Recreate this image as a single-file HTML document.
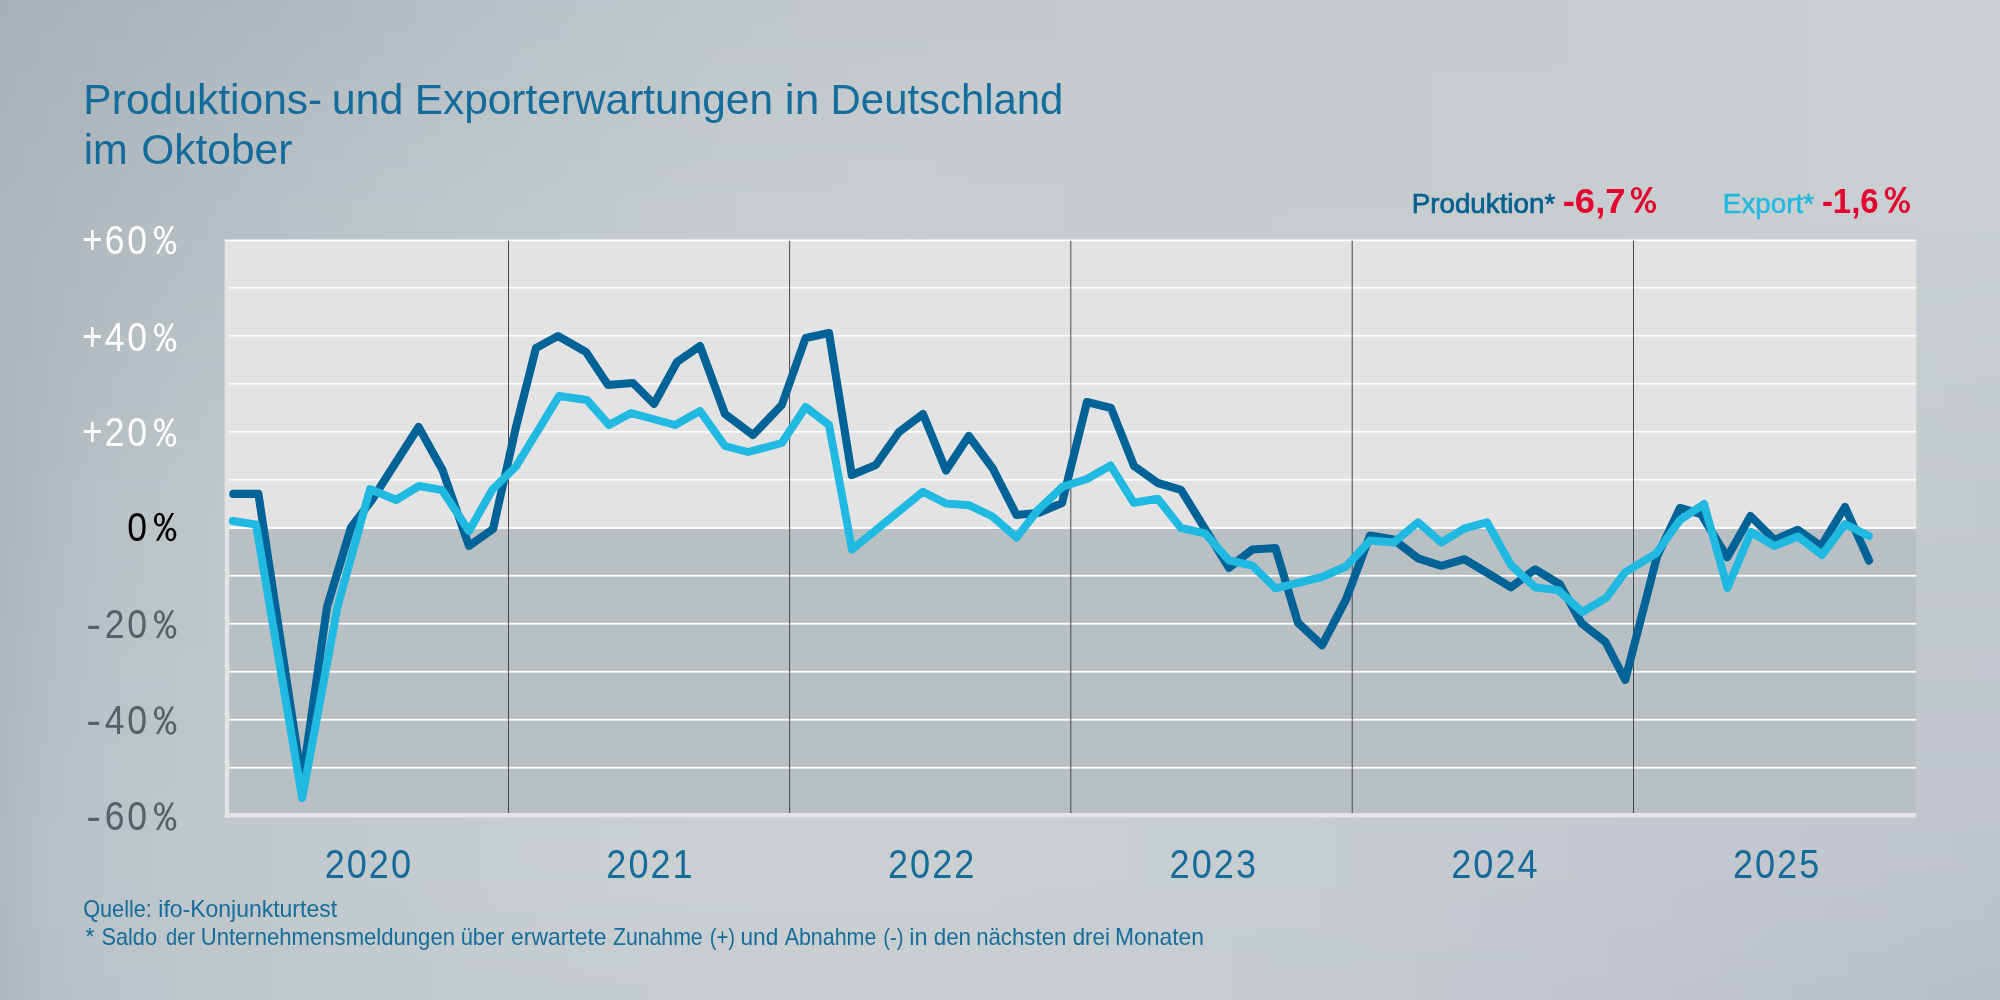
<!DOCTYPE html>
<html><head><meta charset="utf-8"><title>Produktions- und Exporterwartungen</title>
<style>
html,body{margin:0;padding:0;background:#bfc5ca;}
body{width:2000px;height:1000px;overflow:hidden;font-family:"Liberation Sans",sans-serif;}
svg{display:block;font-family:"Liberation Sans",sans-serif;}
</style></head><body>
<svg width="2000" height="1000" viewBox="0 0 2000 1000">
<defs>
<linearGradient id="g0"><stop offset="0" stop-color="#a6b1b7"/><stop offset="0.0125" stop-color="#a7b2b8"/><stop offset="0.025" stop-color="#a8b3b9"/><stop offset="0.05" stop-color="#a9b4ba"/><stop offset="0.08" stop-color="#abb6bc"/><stop offset="0.1125" stop-color="#adb7bd"/><stop offset="0.16" stop-color="#b1bbc0"/><stop offset="0.2" stop-color="#b4bec3"/><stop offset="0.25" stop-color="#b8c1c6"/><stop offset="0.3" stop-color="#bbc4c8"/><stop offset="0.375" stop-color="#c0c7ca"/><stop offset="0.45" stop-color="#c3c9cb"/><stop offset="0.5" stop-color="#c4cacc"/><stop offset="0.6" stop-color="#c5cbcd"/><stop offset="0.65" stop-color="#c5cbcd"/><stop offset="0.75" stop-color="#c6ccce"/><stop offset="0.8" stop-color="#c7cdcf"/><stop offset="0.9" stop-color="#c9ced1"/><stop offset="0.958" stop-color="#cacfd2"/><stop offset="1" stop-color="#cbd0d3"/></linearGradient>
<linearGradient id="g1"><stop offset="0" stop-color="#a6b1b7"/><stop offset="0.0125" stop-color="#a7b2b8"/><stop offset="0.025" stop-color="#a8b3b9"/><stop offset="0.05" stop-color="#aab4ba"/><stop offset="0.08" stop-color="#acb6bc"/><stop offset="0.1125" stop-color="#aeb8be"/><stop offset="0.16" stop-color="#b1bbc1"/><stop offset="0.2" stop-color="#b5bec3"/><stop offset="0.25" stop-color="#b9c1c6"/><stop offset="0.3" stop-color="#bcc4c8"/><stop offset="0.375" stop-color="#c0c7ca"/><stop offset="0.45" stop-color="#c3c9cc"/><stop offset="0.5" stop-color="#c4cacc"/><stop offset="0.6" stop-color="#c5cbcd"/><stop offset="0.65" stop-color="#c5cbcd"/><stop offset="0.75" stop-color="#c6ccce"/><stop offset="0.8" stop-color="#c7cdcf"/><stop offset="0.9" stop-color="#c9ced1"/><stop offset="0.958" stop-color="#cacfd2"/><stop offset="1" stop-color="#cbd0d3"/></linearGradient>
<linearGradient id="g2"><stop offset="0" stop-color="#a7b1b7"/><stop offset="0.0125" stop-color="#a7b2b8"/><stop offset="0.025" stop-color="#a8b3b9"/><stop offset="0.05" stop-color="#aab4ba"/><stop offset="0.08" stop-color="#acb6bc"/><stop offset="0.1125" stop-color="#aeb8be"/><stop offset="0.16" stop-color="#b2bbc1"/><stop offset="0.2" stop-color="#b5bec4"/><stop offset="0.25" stop-color="#b9c2c7"/><stop offset="0.3" stop-color="#bcc4c8"/><stop offset="0.375" stop-color="#c1c8cb"/><stop offset="0.45" stop-color="#c3c9cc"/><stop offset="0.5" stop-color="#c4cacc"/><stop offset="0.6" stop-color="#c5cbcd"/><stop offset="0.65" stop-color="#c5cbcd"/><stop offset="0.75" stop-color="#c6ccce"/><stop offset="0.8" stop-color="#c7cdcf"/><stop offset="0.9" stop-color="#c9ced1"/><stop offset="0.958" stop-color="#cacfd2"/><stop offset="1" stop-color="#cbd0d3"/></linearGradient>
<linearGradient id="g3"><stop offset="0" stop-color="#a7b2b8"/><stop offset="0.0125" stop-color="#a8b2b8"/><stop offset="0.025" stop-color="#a9b3b9"/><stop offset="0.05" stop-color="#aab5bb"/><stop offset="0.08" stop-color="#acb7bc"/><stop offset="0.1125" stop-color="#afb9be"/><stop offset="0.16" stop-color="#b2bcc1"/><stop offset="0.2" stop-color="#b6bfc4"/><stop offset="0.25" stop-color="#b9c2c7"/><stop offset="0.3" stop-color="#bcc4c8"/><stop offset="0.375" stop-color="#c1c8cb"/><stop offset="0.45" stop-color="#c3c9cc"/><stop offset="0.5" stop-color="#c4cacc"/><stop offset="0.6" stop-color="#c5cbcd"/><stop offset="0.65" stop-color="#c5cbcd"/><stop offset="0.75" stop-color="#c6ccce"/><stop offset="0.8" stop-color="#c7cdcf"/><stop offset="0.9" stop-color="#c9ced1"/><stop offset="0.958" stop-color="#cacfd2"/><stop offset="1" stop-color="#cbd0d3"/></linearGradient>
<linearGradient id="g4"><stop offset="0" stop-color="#a7b2b8"/><stop offset="0.0125" stop-color="#a8b3b9"/><stop offset="0.025" stop-color="#a9b3b9"/><stop offset="0.05" stop-color="#abb5bb"/><stop offset="0.08" stop-color="#adb7bd"/><stop offset="0.1125" stop-color="#afb9bf"/><stop offset="0.16" stop-color="#b3bcc2"/><stop offset="0.2" stop-color="#b6bfc4"/><stop offset="0.25" stop-color="#bac2c7"/><stop offset="0.3" stop-color="#bdc5c9"/><stop offset="0.375" stop-color="#c1c8cb"/><stop offset="0.45" stop-color="#c3cacc"/><stop offset="0.5" stop-color="#c5cbcd"/><stop offset="0.6" stop-color="#c5cbcd"/><stop offset="0.65" stop-color="#c5cbcd"/><stop offset="0.75" stop-color="#c6ccce"/><stop offset="0.8" stop-color="#c7cdcf"/><stop offset="0.9" stop-color="#c9ced1"/><stop offset="0.958" stop-color="#cacfd2"/><stop offset="1" stop-color="#cbd0d3"/></linearGradient>
<linearGradient id="g5"><stop offset="0" stop-color="#a7b2b8"/><stop offset="0.0125" stop-color="#a8b3b9"/><stop offset="0.025" stop-color="#a9b4ba"/><stop offset="0.05" stop-color="#abb5bb"/><stop offset="0.08" stop-color="#adb7bd"/><stop offset="0.1125" stop-color="#b0b9bf"/><stop offset="0.16" stop-color="#b3bdc2"/><stop offset="0.2" stop-color="#b6bfc4"/><stop offset="0.25" stop-color="#bac3c7"/><stop offset="0.3" stop-color="#bdc5c9"/><stop offset="0.375" stop-color="#c2c8cb"/><stop offset="0.45" stop-color="#c4cacc"/><stop offset="0.5" stop-color="#c5cbcd"/><stop offset="0.6" stop-color="#c5cbcd"/><stop offset="0.65" stop-color="#c6ccce"/><stop offset="0.75" stop-color="#c6ccce"/><stop offset="0.8" stop-color="#c7cdcf"/><stop offset="0.9" stop-color="#c9ced1"/><stop offset="0.958" stop-color="#cacfd2"/><stop offset="1" stop-color="#cad0d3"/></linearGradient>
<linearGradient id="g6"><stop offset="0" stop-color="#a8b2b8"/><stop offset="0.0125" stop-color="#a8b3b9"/><stop offset="0.025" stop-color="#a9b4ba"/><stop offset="0.05" stop-color="#abb6bb"/><stop offset="0.08" stop-color="#aeb8bd"/><stop offset="0.1125" stop-color="#b0babf"/><stop offset="0.16" stop-color="#b4bdc2"/><stop offset="0.2" stop-color="#b7c0c5"/><stop offset="0.25" stop-color="#bac3c8"/><stop offset="0.3" stop-color="#bec5c9"/><stop offset="0.375" stop-color="#c2c9cc"/><stop offset="0.45" stop-color="#c4cacd"/><stop offset="0.5" stop-color="#c5cbcd"/><stop offset="0.6" stop-color="#c5cbcd"/><stop offset="0.65" stop-color="#c6ccce"/><stop offset="0.75" stop-color="#c6ccce"/><stop offset="0.8" stop-color="#c7cdcf"/><stop offset="0.9" stop-color="#c9ced1"/><stop offset="0.958" stop-color="#cacfd2"/><stop offset="1" stop-color="#cad0d3"/></linearGradient>
<linearGradient id="g7"><stop offset="0" stop-color="#a8b2b8"/><stop offset="0.0125" stop-color="#a9b3b9"/><stop offset="0.025" stop-color="#aab4ba"/><stop offset="0.05" stop-color="#acb6bc"/><stop offset="0.08" stop-color="#aeb8be"/><stop offset="0.1125" stop-color="#b0bac0"/><stop offset="0.16" stop-color="#b4bdc3"/><stop offset="0.2" stop-color="#b7c0c5"/><stop offset="0.25" stop-color="#bbc3c8"/><stop offset="0.3" stop-color="#bec6ca"/><stop offset="0.375" stop-color="#c2c9cc"/><stop offset="0.45" stop-color="#c4cacd"/><stop offset="0.5" stop-color="#c5cbcd"/><stop offset="0.6" stop-color="#c5cbcd"/><stop offset="0.65" stop-color="#c6ccce"/><stop offset="0.75" stop-color="#c7cdcf"/><stop offset="0.8" stop-color="#c7cdcf"/><stop offset="0.9" stop-color="#c9ced1"/><stop offset="0.958" stop-color="#cacfd2"/><stop offset="1" stop-color="#cad0d3"/></linearGradient>
<linearGradient id="g8"><stop offset="0" stop-color="#a8b3b9"/><stop offset="0.0125" stop-color="#a9b3b9"/><stop offset="0.025" stop-color="#aab4ba"/><stop offset="0.05" stop-color="#acb6bc"/><stop offset="0.08" stop-color="#aeb8be"/><stop offset="0.1125" stop-color="#b1bac0"/><stop offset="0.16" stop-color="#b4bec3"/><stop offset="0.2" stop-color="#b8c0c5"/><stop offset="0.25" stop-color="#bbc4c8"/><stop offset="0.3" stop-color="#bec6ca"/><stop offset="0.375" stop-color="#c2c9cc"/><stop offset="0.45" stop-color="#c4cacd"/><stop offset="0.5" stop-color="#c5cbcd"/><stop offset="0.6" stop-color="#c5cbcd"/><stop offset="0.65" stop-color="#c6ccce"/><stop offset="0.75" stop-color="#c7cdcf"/><stop offset="0.8" stop-color="#c7cdcf"/><stop offset="0.9" stop-color="#c9ced1"/><stop offset="0.958" stop-color="#cacfd2"/><stop offset="1" stop-color="#cad0d3"/></linearGradient>
<linearGradient id="g9"><stop offset="0" stop-color="#a8b3b9"/><stop offset="0.0125" stop-color="#a9b4ba"/><stop offset="0.025" stop-color="#aab5ba"/><stop offset="0.05" stop-color="#acb6bc"/><stop offset="0.08" stop-color="#afb9be"/><stop offset="0.1125" stop-color="#b1bbc0"/><stop offset="0.16" stop-color="#b5bec3"/><stop offset="0.2" stop-color="#b8c1c6"/><stop offset="0.25" stop-color="#bcc4c8"/><stop offset="0.3" stop-color="#bfc6ca"/><stop offset="0.375" stop-color="#c3c9cc"/><stop offset="0.45" stop-color="#c4cbcd"/><stop offset="0.5" stop-color="#c5cbcd"/><stop offset="0.6" stop-color="#c5cbcd"/><stop offset="0.65" stop-color="#c6ccce"/><stop offset="0.75" stop-color="#c7cdcf"/><stop offset="0.8" stop-color="#c7cdcf"/><stop offset="0.9" stop-color="#c9ced1"/><stop offset="0.958" stop-color="#cacfd2"/><stop offset="1" stop-color="#cad0d3"/></linearGradient>
<linearGradient id="g10"><stop offset="0" stop-color="#a8b3b9"/><stop offset="0.0125" stop-color="#aab4ba"/><stop offset="0.025" stop-color="#abb5bb"/><stop offset="0.05" stop-color="#adb7bc"/><stop offset="0.08" stop-color="#afb9be"/><stop offset="0.1125" stop-color="#b2bbc1"/><stop offset="0.16" stop-color="#b5bec3"/><stop offset="0.2" stop-color="#b8c1c6"/><stop offset="0.25" stop-color="#bcc4c8"/><stop offset="0.3" stop-color="#bfc7ca"/><stop offset="0.375" stop-color="#c3cacd"/><stop offset="0.45" stop-color="#c5cbcd"/><stop offset="0.5" stop-color="#c5cbce"/><stop offset="0.6" stop-color="#c5cbcd"/><stop offset="0.65" stop-color="#c6ccce"/><stop offset="0.75" stop-color="#c7cdcf"/><stop offset="0.8" stop-color="#c8cdd0"/><stop offset="0.9" stop-color="#c9ced1"/><stop offset="0.958" stop-color="#c9cfd2"/><stop offset="1" stop-color="#cad0d2"/></linearGradient>
<linearGradient id="g11"><stop offset="0" stop-color="#a9b3b9"/><stop offset="0.0125" stop-color="#aab4ba"/><stop offset="0.025" stop-color="#abb5bb"/><stop offset="0.05" stop-color="#adb7bd"/><stop offset="0.08" stop-color="#afb9bf"/><stop offset="0.1125" stop-color="#b2bbc1"/><stop offset="0.16" stop-color="#b6bfc4"/><stop offset="0.2" stop-color="#b9c2c6"/><stop offset="0.25" stop-color="#bcc5c9"/><stop offset="0.3" stop-color="#bfc7cb"/><stop offset="0.375" stop-color="#c3cacd"/><stop offset="0.45" stop-color="#c5cbce"/><stop offset="0.5" stop-color="#c5cbce"/><stop offset="0.6" stop-color="#c5cbcd"/><stop offset="0.65" stop-color="#c6ccce"/><stop offset="0.75" stop-color="#c7cdcf"/><stop offset="0.8" stop-color="#c8cdd0"/><stop offset="0.9" stop-color="#c9ced1"/><stop offset="0.958" stop-color="#c9cfd2"/><stop offset="1" stop-color="#cacfd2"/></linearGradient>
<linearGradient id="g12"><stop offset="0" stop-color="#a9b3b9"/><stop offset="0.0125" stop-color="#aab4ba"/><stop offset="0.025" stop-color="#abb5bb"/><stop offset="0.05" stop-color="#adb7bd"/><stop offset="0.08" stop-color="#b0b9bf"/><stop offset="0.1125" stop-color="#b2bcc1"/><stop offset="0.16" stop-color="#b6bfc4"/><stop offset="0.2" stop-color="#b9c2c6"/><stop offset="0.25" stop-color="#bdc5c9"/><stop offset="0.3" stop-color="#c0c7cb"/><stop offset="0.375" stop-color="#c4cacd"/><stop offset="0.45" stop-color="#c5cbce"/><stop offset="0.5" stop-color="#c5cbce"/><stop offset="0.6" stop-color="#c6ccce"/><stop offset="0.65" stop-color="#c6ccce"/><stop offset="0.75" stop-color="#c7cdcf"/><stop offset="0.8" stop-color="#c8ced0"/><stop offset="0.9" stop-color="#c9ced1"/><stop offset="0.958" stop-color="#c9cfd2"/><stop offset="1" stop-color="#cacfd2"/></linearGradient>
<linearGradient id="g13"><stop offset="0" stop-color="#a9b4ba"/><stop offset="0.0125" stop-color="#aab5ba"/><stop offset="0.025" stop-color="#abb6bb"/><stop offset="0.05" stop-color="#aeb7bd"/><stop offset="0.08" stop-color="#b0babf"/><stop offset="0.1125" stop-color="#b3bcc1"/><stop offset="0.16" stop-color="#b7bfc4"/><stop offset="0.2" stop-color="#bac2c7"/><stop offset="0.25" stop-color="#bdc5c9"/><stop offset="0.3" stop-color="#c0c8cb"/><stop offset="0.375" stop-color="#c4cacd"/><stop offset="0.45" stop-color="#c5cbce"/><stop offset="0.5" stop-color="#c6ccce"/><stop offset="0.6" stop-color="#c6ccce"/><stop offset="0.65" stop-color="#c6ccce"/><stop offset="0.75" stop-color="#c7cdcf"/><stop offset="0.8" stop-color="#c8ced0"/><stop offset="0.9" stop-color="#c9ced1"/><stop offset="0.958" stop-color="#c9cfd2"/><stop offset="1" stop-color="#cacfd2"/></linearGradient>
<linearGradient id="g14"><stop offset="0" stop-color="#a9b4ba"/><stop offset="0.0125" stop-color="#abb5bb"/><stop offset="0.025" stop-color="#acb6bc"/><stop offset="0.05" stop-color="#aeb8bd"/><stop offset="0.08" stop-color="#b1bac0"/><stop offset="0.1125" stop-color="#b3bdc2"/><stop offset="0.16" stop-color="#b7c0c5"/><stop offset="0.2" stop-color="#bac3c7"/><stop offset="0.25" stop-color="#bec5c9"/><stop offset="0.3" stop-color="#c1c8cb"/><stop offset="0.375" stop-color="#c4cbce"/><stop offset="0.45" stop-color="#c5ccce"/><stop offset="0.5" stop-color="#c6ccce"/><stop offset="0.6" stop-color="#c6ccce"/><stop offset="0.65" stop-color="#c6ccce"/><stop offset="0.75" stop-color="#c7cdcf"/><stop offset="0.8" stop-color="#c8ced0"/><stop offset="0.9" stop-color="#c9ced1"/><stop offset="0.958" stop-color="#c9cfd2"/><stop offset="1" stop-color="#cacfd2"/></linearGradient>
<linearGradient id="g15"><stop offset="0" stop-color="#aab4ba"/><stop offset="0.0125" stop-color="#abb5bb"/><stop offset="0.025" stop-color="#acb6bc"/><stop offset="0.05" stop-color="#aeb8be"/><stop offset="0.08" stop-color="#b1bac0"/><stop offset="0.1125" stop-color="#b4bdc2"/><stop offset="0.16" stop-color="#b7c0c5"/><stop offset="0.2" stop-color="#bbc3c7"/><stop offset="0.25" stop-color="#bec6ca"/><stop offset="0.3" stop-color="#c1c8cc"/><stop offset="0.375" stop-color="#c4cbce"/><stop offset="0.45" stop-color="#c6ccce"/><stop offset="0.5" stop-color="#c6ccce"/><stop offset="0.6" stop-color="#c6ccce"/><stop offset="0.65" stop-color="#c6ccce"/><stop offset="0.75" stop-color="#c7cdcf"/><stop offset="0.8" stop-color="#c8ced0"/><stop offset="0.9" stop-color="#c9ced1"/><stop offset="0.958" stop-color="#c9cfd2"/><stop offset="1" stop-color="#cacfd2"/></linearGradient>
<linearGradient id="g16"><stop offset="0" stop-color="#aab4ba"/><stop offset="0.0125" stop-color="#abb5bb"/><stop offset="0.025" stop-color="#acb6bc"/><stop offset="0.05" stop-color="#afb8be"/><stop offset="0.08" stop-color="#b1bbc0"/><stop offset="0.1125" stop-color="#b4bdc2"/><stop offset="0.16" stop-color="#b8c1c5"/><stop offset="0.2" stop-color="#bbc3c8"/><stop offset="0.25" stop-color="#bec6ca"/><stop offset="0.3" stop-color="#c1c9cc"/><stop offset="0.375" stop-color="#c5cbce"/><stop offset="0.45" stop-color="#c6cccf"/><stop offset="0.5" stop-color="#c6ccce"/><stop offset="0.6" stop-color="#c6ccce"/><stop offset="0.65" stop-color="#c6ccce"/><stop offset="0.75" stop-color="#c7cdcf"/><stop offset="0.8" stop-color="#c8ced0"/><stop offset="0.9" stop-color="#c9ced1"/><stop offset="0.958" stop-color="#c9cfd2"/><stop offset="1" stop-color="#c9cfd2"/></linearGradient>
<linearGradient id="g17"><stop offset="0" stop-color="#aab4ba"/><stop offset="0.0125" stop-color="#abb5bb"/><stop offset="0.025" stop-color="#adb6bc"/><stop offset="0.05" stop-color="#afb9be"/><stop offset="0.08" stop-color="#b2bbc0"/><stop offset="0.1125" stop-color="#b5bec3"/><stop offset="0.16" stop-color="#b8c1c6"/><stop offset="0.2" stop-color="#bcc4c8"/><stop offset="0.25" stop-color="#bfc6ca"/><stop offset="0.3" stop-color="#c2c9cc"/><stop offset="0.375" stop-color="#c5cbce"/><stop offset="0.45" stop-color="#c6cccf"/><stop offset="0.5" stop-color="#c6ccce"/><stop offset="0.6" stop-color="#c6ccce"/><stop offset="0.65" stop-color="#c6ccce"/><stop offset="0.75" stop-color="#c7cdcf"/><stop offset="0.8" stop-color="#c8ced0"/><stop offset="0.9" stop-color="#c9ced1"/><stop offset="0.958" stop-color="#c9cfd2"/><stop offset="1" stop-color="#c9cfd2"/></linearGradient>
<linearGradient id="g18"><stop offset="0" stop-color="#aab5bb"/><stop offset="0.0125" stop-color="#acb6bb"/><stop offset="0.025" stop-color="#adb7bc"/><stop offset="0.05" stop-color="#afb9be"/><stop offset="0.08" stop-color="#b2bbc1"/><stop offset="0.1125" stop-color="#b5bec3"/><stop offset="0.16" stop-color="#b9c1c6"/><stop offset="0.2" stop-color="#bcc4c8"/><stop offset="0.25" stop-color="#bfc7ca"/><stop offset="0.3" stop-color="#c2c9cc"/><stop offset="0.375" stop-color="#c5cccf"/><stop offset="0.45" stop-color="#c6cccf"/><stop offset="0.5" stop-color="#c6cccf"/><stop offset="0.6" stop-color="#c6ccce"/><stop offset="0.65" stop-color="#c6ccce"/><stop offset="0.75" stop-color="#c7cdcf"/><stop offset="0.8" stop-color="#c8ced0"/><stop offset="0.9" stop-color="#c9ced1"/><stop offset="0.958" stop-color="#c9cfd2"/><stop offset="1" stop-color="#c9cfd2"/></linearGradient>
<linearGradient id="g19"><stop offset="0" stop-color="#abb5bb"/><stop offset="0.0125" stop-color="#acb6bc"/><stop offset="0.025" stop-color="#adb7bd"/><stop offset="0.05" stop-color="#b0b9bf"/><stop offset="0.08" stop-color="#b2bcc1"/><stop offset="0.1125" stop-color="#b5bec3"/><stop offset="0.16" stop-color="#b9c2c6"/><stop offset="0.2" stop-color="#bcc4c9"/><stop offset="0.25" stop-color="#bfc7cb"/><stop offset="0.3" stop-color="#c2cacd"/><stop offset="0.375" stop-color="#c6cccf"/><stop offset="0.45" stop-color="#c6cccf"/><stop offset="0.5" stop-color="#c6cccf"/><stop offset="0.6" stop-color="#c6ccce"/><stop offset="0.65" stop-color="#c6ccce"/><stop offset="0.75" stop-color="#c7cdcf"/><stop offset="0.8" stop-color="#c8ced0"/><stop offset="0.9" stop-color="#c9ced1"/><stop offset="0.958" stop-color="#c9cfd2"/><stop offset="1" stop-color="#c9cfd2"/></linearGradient>
<linearGradient id="g20"><stop offset="0" stop-color="#abb5bb"/><stop offset="0.0125" stop-color="#acb6bc"/><stop offset="0.025" stop-color="#adb7bd"/><stop offset="0.05" stop-color="#b0b9bf"/><stop offset="0.08" stop-color="#b3bcc1"/><stop offset="0.1125" stop-color="#b6bfc4"/><stop offset="0.16" stop-color="#bac2c6"/><stop offset="0.2" stop-color="#bdc5c9"/><stop offset="0.25" stop-color="#c0c7cb"/><stop offset="0.3" stop-color="#c3cacd"/><stop offset="0.375" stop-color="#c6cccf"/><stop offset="0.45" stop-color="#c7cdcf"/><stop offset="0.5" stop-color="#c6cccf"/><stop offset="0.6" stop-color="#c6ccce"/><stop offset="0.65" stop-color="#c6ccce"/><stop offset="0.75" stop-color="#c7cdcf"/><stop offset="0.8" stop-color="#c8ced0"/><stop offset="0.9" stop-color="#c9ced1"/><stop offset="0.958" stop-color="#c9cfd2"/><stop offset="1" stop-color="#c9cfd2"/></linearGradient>
<linearGradient id="g21"><stop offset="0" stop-color="#abb5bb"/><stop offset="0.0125" stop-color="#acb6bc"/><stop offset="0.025" stop-color="#aeb7bd"/><stop offset="0.05" stop-color="#b0babf"/><stop offset="0.08" stop-color="#b3bcc1"/><stop offset="0.1125" stop-color="#b6bfc4"/><stop offset="0.16" stop-color="#bac2c7"/><stop offset="0.2" stop-color="#bdc5c9"/><stop offset="0.25" stop-color="#c0c8cb"/><stop offset="0.3" stop-color="#c3cacd"/><stop offset="0.375" stop-color="#c6cccf"/><stop offset="0.45" stop-color="#c7cdd0"/><stop offset="0.5" stop-color="#c7cdcf"/><stop offset="0.6" stop-color="#c6ccce"/><stop offset="0.65" stop-color="#c7cdcf"/><stop offset="0.75" stop-color="#c7cdcf"/><stop offset="0.8" stop-color="#c8ced0"/><stop offset="0.9" stop-color="#c8ced1"/><stop offset="0.958" stop-color="#c9cfd2"/><stop offset="1" stop-color="#c9cfd2"/></linearGradient>
<linearGradient id="g22"><stop offset="0" stop-color="#abb5bb"/><stop offset="0.0125" stop-color="#acb6bc"/><stop offset="0.025" stop-color="#aeb7bd"/><stop offset="0.05" stop-color="#b0babf"/><stop offset="0.08" stop-color="#b3bdc2"/><stop offset="0.1125" stop-color="#b6bfc4"/><stop offset="0.16" stop-color="#bac2c7"/><stop offset="0.2" stop-color="#bdc5c9"/><stop offset="0.25" stop-color="#c0c8cb"/><stop offset="0.3" stop-color="#c3cacd"/><stop offset="0.375" stop-color="#c6cccf"/><stop offset="0.45" stop-color="#c7cdd0"/><stop offset="0.5" stop-color="#c7cdcf"/><stop offset="0.6" stop-color="#c6ccce"/><stop offset="0.65" stop-color="#c7cdcf"/><stop offset="0.75" stop-color="#c7cdcf"/><stop offset="0.8" stop-color="#c8ced0"/><stop offset="0.9" stop-color="#c8ced1"/><stop offset="0.958" stop-color="#c9cfd1"/><stop offset="1" stop-color="#c9cfd2"/></linearGradient>
<linearGradient id="g23"><stop offset="0" stop-color="#abb5bb"/><stop offset="0.0125" stop-color="#adb6bc"/><stop offset="0.025" stop-color="#aeb8bd"/><stop offset="0.05" stop-color="#b1bac0"/><stop offset="0.08" stop-color="#b4bdc2"/><stop offset="0.1125" stop-color="#b7bfc4"/><stop offset="0.16" stop-color="#bac3c7"/><stop offset="0.2" stop-color="#bdc5c9"/><stop offset="0.25" stop-color="#c0c8cb"/><stop offset="0.3" stop-color="#c3cacd"/><stop offset="0.375" stop-color="#c6cccf"/><stop offset="0.45" stop-color="#c7cdd0"/><stop offset="0.5" stop-color="#c7cdcf"/><stop offset="0.6" stop-color="#c6ccce"/><stop offset="0.65" stop-color="#c7cdcf"/><stop offset="0.75" stop-color="#c7cdcf"/><stop offset="0.8" stop-color="#c8ced0"/><stop offset="0.9" stop-color="#c8ced1"/><stop offset="0.958" stop-color="#c8ced1"/><stop offset="1" stop-color="#c8cfd1"/></linearGradient>
<linearGradient id="g24"><stop offset="0" stop-color="#abb5bb"/><stop offset="0.0125" stop-color="#adb6bc"/><stop offset="0.025" stop-color="#aeb8bd"/><stop offset="0.05" stop-color="#b1bac0"/><stop offset="0.08" stop-color="#b4bdc2"/><stop offset="0.1125" stop-color="#b7c0c4"/><stop offset="0.16" stop-color="#bbc3c7"/><stop offset="0.2" stop-color="#bec5c9"/><stop offset="0.25" stop-color="#c0c8cb"/><stop offset="0.3" stop-color="#c3cacd"/><stop offset="0.375" stop-color="#c6cccf"/><stop offset="0.45" stop-color="#c7cdd0"/><stop offset="0.5" stop-color="#c7cdcf"/><stop offset="0.6" stop-color="#c6ccce"/><stop offset="0.65" stop-color="#c7cdcf"/><stop offset="0.75" stop-color="#c7cdcf"/><stop offset="0.8" stop-color="#c8ced0"/><stop offset="0.9" stop-color="#c8ced1"/><stop offset="0.958" stop-color="#c8ced1"/><stop offset="1" stop-color="#c8ced1"/></linearGradient>
<linearGradient id="g25"><stop offset="0" stop-color="#abb5bb"/><stop offset="0.0125" stop-color="#adb7bc"/><stop offset="0.025" stop-color="#aeb8be"/><stop offset="0.05" stop-color="#b1bbc0"/><stop offset="0.08" stop-color="#b4bdc2"/><stop offset="0.1125" stop-color="#b7c0c5"/><stop offset="0.16" stop-color="#bbc3c7"/><stop offset="0.2" stop-color="#bec6c9"/><stop offset="0.25" stop-color="#c1c8cb"/><stop offset="0.3" stop-color="#c3cacd"/><stop offset="0.375" stop-color="#c6cccf"/><stop offset="0.45" stop-color="#c7cdd0"/><stop offset="0.5" stop-color="#c7cdcf"/><stop offset="0.6" stop-color="#c6ccce"/><stop offset="0.65" stop-color="#c7cdcf"/><stop offset="0.75" stop-color="#c7cdcf"/><stop offset="0.8" stop-color="#c8ced0"/><stop offset="0.9" stop-color="#c8ced0"/><stop offset="0.958" stop-color="#c8ced1"/><stop offset="1" stop-color="#c8ced1"/></linearGradient>
<linearGradient id="g26"><stop offset="0" stop-color="#abb5bb"/><stop offset="0.0125" stop-color="#adb7bc"/><stop offset="0.025" stop-color="#afb8be"/><stop offset="0.05" stop-color="#b2bbc0"/><stop offset="0.08" stop-color="#b4bec2"/><stop offset="0.1125" stop-color="#b8c0c5"/><stop offset="0.16" stop-color="#bbc3c7"/><stop offset="0.2" stop-color="#bec6ca"/><stop offset="0.25" stop-color="#c1c8cb"/><stop offset="0.3" stop-color="#c4cacd"/><stop offset="0.375" stop-color="#c6cccf"/><stop offset="0.45" stop-color="#c7cdd0"/><stop offset="0.5" stop-color="#c7cdcf"/><stop offset="0.6" stop-color="#c6ccce"/><stop offset="0.65" stop-color="#c7cdcf"/><stop offset="0.75" stop-color="#c7cdcf"/><stop offset="0.8" stop-color="#c8ced0"/><stop offset="0.9" stop-color="#c8ced0"/><stop offset="0.958" stop-color="#c8ced1"/><stop offset="1" stop-color="#c8ced1"/></linearGradient>
<linearGradient id="g27"><stop offset="0" stop-color="#abb5bb"/><stop offset="0.0125" stop-color="#adb7bc"/><stop offset="0.025" stop-color="#afb8be"/><stop offset="0.05" stop-color="#b2bbc0"/><stop offset="0.08" stop-color="#b5bec3"/><stop offset="0.1125" stop-color="#b8c0c5"/><stop offset="0.16" stop-color="#bbc3c7"/><stop offset="0.2" stop-color="#bec6ca"/><stop offset="0.25" stop-color="#c1c8cc"/><stop offset="0.3" stop-color="#c4cacd"/><stop offset="0.375" stop-color="#c6cccf"/><stop offset="0.45" stop-color="#c7cdd0"/><stop offset="0.5" stop-color="#c7cdcf"/><stop offset="0.6" stop-color="#c6ccce"/><stop offset="0.65" stop-color="#c7cdcf"/><stop offset="0.75" stop-color="#c7cdcf"/><stop offset="0.8" stop-color="#c8ced0"/><stop offset="0.9" stop-color="#c8ced0"/><stop offset="0.958" stop-color="#c8ced1"/><stop offset="1" stop-color="#c8ced1"/></linearGradient>
<linearGradient id="g28"><stop offset="0" stop-color="#abb5bb"/><stop offset="0.0125" stop-color="#adb7bd"/><stop offset="0.025" stop-color="#afb8be"/><stop offset="0.05" stop-color="#b2bbc1"/><stop offset="0.08" stop-color="#b5bec3"/><stop offset="0.1125" stop-color="#b8c1c5"/><stop offset="0.16" stop-color="#bbc4c8"/><stop offset="0.2" stop-color="#bec6ca"/><stop offset="0.25" stop-color="#c1c8cc"/><stop offset="0.3" stop-color="#c4cbce"/><stop offset="0.375" stop-color="#c6cccf"/><stop offset="0.45" stop-color="#c7cdd0"/><stop offset="0.5" stop-color="#c7cdcf"/><stop offset="0.6" stop-color="#c6ccce"/><stop offset="0.65" stop-color="#c7cdcf"/><stop offset="0.75" stop-color="#c7cdcf"/><stop offset="0.8" stop-color="#c7cdd0"/><stop offset="0.9" stop-color="#c8ced0"/><stop offset="0.958" stop-color="#c8ced0"/><stop offset="1" stop-color="#c7ced0"/></linearGradient>
<linearGradient id="g29"><stop offset="0" stop-color="#abb5bb"/><stop offset="0.0125" stop-color="#adb7bd"/><stop offset="0.025" stop-color="#afb9be"/><stop offset="0.05" stop-color="#b2bcc1"/><stop offset="0.08" stop-color="#b5bec3"/><stop offset="0.1125" stop-color="#b8c1c5"/><stop offset="0.16" stop-color="#bcc4c8"/><stop offset="0.2" stop-color="#bec6ca"/><stop offset="0.25" stop-color="#c1c8cc"/><stop offset="0.3" stop-color="#c4cbce"/><stop offset="0.375" stop-color="#c6cccf"/><stop offset="0.45" stop-color="#c7cdd0"/><stop offset="0.5" stop-color="#c7cdcf"/><stop offset="0.6" stop-color="#c6ccce"/><stop offset="0.65" stop-color="#c7cdcf"/><stop offset="0.75" stop-color="#c7cdcf"/><stop offset="0.8" stop-color="#c7cdd0"/><stop offset="0.9" stop-color="#c7ced0"/><stop offset="0.958" stop-color="#c7ced0"/><stop offset="1" stop-color="#c7ced0"/></linearGradient>
<linearGradient id="g30"><stop offset="0" stop-color="#abb5bb"/><stop offset="0.0125" stop-color="#adb7bd"/><stop offset="0.025" stop-color="#afb9be"/><stop offset="0.05" stop-color="#b3bcc1"/><stop offset="0.08" stop-color="#b6bfc3"/><stop offset="0.1125" stop-color="#b9c1c5"/><stop offset="0.16" stop-color="#bcc4c8"/><stop offset="0.2" stop-color="#bfc6ca"/><stop offset="0.25" stop-color="#c1c8cc"/><stop offset="0.3" stop-color="#c4cbce"/><stop offset="0.375" stop-color="#c6cccf"/><stop offset="0.45" stop-color="#c7cdd0"/><stop offset="0.5" stop-color="#c7cdcf"/><stop offset="0.6" stop-color="#c6cccf"/><stop offset="0.65" stop-color="#c7cdcf"/><stop offset="0.75" stop-color="#c7cdcf"/><stop offset="0.8" stop-color="#c7cdd0"/><stop offset="0.9" stop-color="#c7cdd0"/><stop offset="0.958" stop-color="#c7ced0"/><stop offset="1" stop-color="#c7cdd0"/></linearGradient>
<linearGradient id="g31"><stop offset="0" stop-color="#abb5bb"/><stop offset="0.0125" stop-color="#aeb7bd"/><stop offset="0.025" stop-color="#afb9be"/><stop offset="0.05" stop-color="#b3bcc1"/><stop offset="0.08" stop-color="#b6bfc3"/><stop offset="0.1125" stop-color="#b9c1c6"/><stop offset="0.16" stop-color="#bcc4c8"/><stop offset="0.2" stop-color="#bfc6ca"/><stop offset="0.25" stop-color="#c1c9cc"/><stop offset="0.3" stop-color="#c4cbce"/><stop offset="0.375" stop-color="#c6cccf"/><stop offset="0.45" stop-color="#c7cdd0"/><stop offset="0.5" stop-color="#c7cdcf"/><stop offset="0.6" stop-color="#c6cccf"/><stop offset="0.65" stop-color="#c7cdcf"/><stop offset="0.75" stop-color="#c7cdcf"/><stop offset="0.8" stop-color="#c7cdd0"/><stop offset="0.9" stop-color="#c7cdd0"/><stop offset="0.958" stop-color="#c7cdd0"/><stop offset="1" stop-color="#c7cdd0"/></linearGradient>
<linearGradient id="g32"><stop offset="0" stop-color="#abb5bb"/><stop offset="0.0125" stop-color="#aeb7bd"/><stop offset="0.025" stop-color="#b0b9bf"/><stop offset="0.05" stop-color="#b3bcc1"/><stop offset="0.08" stop-color="#b6bfc4"/><stop offset="0.1125" stop-color="#b9c2c6"/><stop offset="0.16" stop-color="#bcc4c8"/><stop offset="0.2" stop-color="#bfc7ca"/><stop offset="0.25" stop-color="#c2c9cc"/><stop offset="0.3" stop-color="#c4cbce"/><stop offset="0.375" stop-color="#c6cccf"/><stop offset="0.45" stop-color="#c7cdd0"/><stop offset="0.5" stop-color="#c7cdcf"/><stop offset="0.6" stop-color="#c7cdcf"/><stop offset="0.65" stop-color="#c7cdcf"/><stop offset="0.75" stop-color="#c7cdcf"/><stop offset="0.8" stop-color="#c7cdd0"/><stop offset="0.9" stop-color="#c7cdd0"/><stop offset="0.958" stop-color="#c7cdd0"/><stop offset="1" stop-color="#c7cdd0"/></linearGradient>
<linearGradient id="g33"><stop offset="0" stop-color="#abb5bb"/><stop offset="0.0125" stop-color="#aeb7bd"/><stop offset="0.025" stop-color="#b0b9bf"/><stop offset="0.05" stop-color="#b3bdc2"/><stop offset="0.08" stop-color="#b6bfc4"/><stop offset="0.1125" stop-color="#b9c2c6"/><stop offset="0.16" stop-color="#bcc4c8"/><stop offset="0.2" stop-color="#bfc7ca"/><stop offset="0.25" stop-color="#c2c9cc"/><stop offset="0.3" stop-color="#c4cbce"/><stop offset="0.375" stop-color="#c6cccf"/><stop offset="0.45" stop-color="#c7cdd0"/><stop offset="0.5" stop-color="#c7cdcf"/><stop offset="0.6" stop-color="#c7cdcf"/><stop offset="0.65" stop-color="#c7cdcf"/><stop offset="0.75" stop-color="#c7cdcf"/><stop offset="0.8" stop-color="#c7cdd0"/><stop offset="0.9" stop-color="#c7cdd0"/><stop offset="0.958" stop-color="#c7cdd0"/><stop offset="1" stop-color="#c6cdcf"/></linearGradient>
<linearGradient id="g34"><stop offset="0" stop-color="#abb5bb"/><stop offset="0.0125" stop-color="#aeb7bd"/><stop offset="0.025" stop-color="#b0b9bf"/><stop offset="0.05" stop-color="#b4bdc2"/><stop offset="0.08" stop-color="#b7c0c4"/><stop offset="0.1125" stop-color="#bac2c6"/><stop offset="0.16" stop-color="#bdc5c8"/><stop offset="0.2" stop-color="#bfc7ca"/><stop offset="0.25" stop-color="#c2c9cc"/><stop offset="0.3" stop-color="#c4cbce"/><stop offset="0.375" stop-color="#c6cccf"/><stop offset="0.45" stop-color="#c7cdd0"/><stop offset="0.5" stop-color="#c7cdcf"/><stop offset="0.6" stop-color="#c7cdcf"/><stop offset="0.65" stop-color="#c7cdcf"/><stop offset="0.75" stop-color="#c7cdcf"/><stop offset="0.8" stop-color="#c7cdd0"/><stop offset="0.9" stop-color="#c7cdcf"/><stop offset="0.958" stop-color="#c7cdcf"/><stop offset="1" stop-color="#c6cdcf"/></linearGradient>
<linearGradient id="g35"><stop offset="0" stop-color="#acb5bb"/><stop offset="0.0125" stop-color="#aeb7bd"/><stop offset="0.025" stop-color="#b0babf"/><stop offset="0.05" stop-color="#b4bdc2"/><stop offset="0.08" stop-color="#b7c0c4"/><stop offset="0.1125" stop-color="#bac2c6"/><stop offset="0.16" stop-color="#bdc5c9"/><stop offset="0.2" stop-color="#bfc7ca"/><stop offset="0.25" stop-color="#c2c9cc"/><stop offset="0.3" stop-color="#c4cbce"/><stop offset="0.375" stop-color="#c6cccf"/><stop offset="0.45" stop-color="#c7cdd0"/><stop offset="0.5" stop-color="#c7cdd0"/><stop offset="0.6" stop-color="#c7cdcf"/><stop offset="0.65" stop-color="#c7cdcf"/><stop offset="0.75" stop-color="#c7cdcf"/><stop offset="0.8" stop-color="#c7cdd0"/><stop offset="0.9" stop-color="#c7cdcf"/><stop offset="0.958" stop-color="#c6cdcf"/><stop offset="1" stop-color="#c6cccf"/></linearGradient>
<linearGradient id="g36"><stop offset="0" stop-color="#acb5bb"/><stop offset="0.0125" stop-color="#aeb8bd"/><stop offset="0.025" stop-color="#b0babf"/><stop offset="0.05" stop-color="#b4bec2"/><stop offset="0.08" stop-color="#b7c0c4"/><stop offset="0.1125" stop-color="#bac3c7"/><stop offset="0.16" stop-color="#bdc5c9"/><stop offset="0.2" stop-color="#c0c7ca"/><stop offset="0.25" stop-color="#c2c9cc"/><stop offset="0.3" stop-color="#c5cbce"/><stop offset="0.375" stop-color="#c6cdcf"/><stop offset="0.45" stop-color="#c7cdd0"/><stop offset="0.5" stop-color="#c7cdd0"/><stop offset="0.6" stop-color="#c7cdcf"/><stop offset="0.65" stop-color="#c7cdcf"/><stop offset="0.75" stop-color="#c7cdcf"/><stop offset="0.8" stop-color="#c7cdcf"/><stop offset="0.9" stop-color="#c6cdcf"/><stop offset="0.958" stop-color="#c6cdcf"/><stop offset="1" stop-color="#c6cccf"/></linearGradient>
<linearGradient id="g37"><stop offset="0" stop-color="#acb5bb"/><stop offset="0.0125" stop-color="#aeb8bd"/><stop offset="0.025" stop-color="#b1babf"/><stop offset="0.05" stop-color="#b5bec2"/><stop offset="0.08" stop-color="#b7c0c5"/><stop offset="0.1125" stop-color="#bbc3c7"/><stop offset="0.16" stop-color="#bdc5c9"/><stop offset="0.2" stop-color="#c0c7cb"/><stop offset="0.25" stop-color="#c2c9cc"/><stop offset="0.3" stop-color="#c5cbce"/><stop offset="0.375" stop-color="#c6cdcf"/><stop offset="0.45" stop-color="#c7cdd0"/><stop offset="0.5" stop-color="#c7cdd0"/><stop offset="0.6" stop-color="#c7cdcf"/><stop offset="0.65" stop-color="#c7cdcf"/><stop offset="0.75" stop-color="#c7cdcf"/><stop offset="0.8" stop-color="#c7cdcf"/><stop offset="0.9" stop-color="#c6cdcf"/><stop offset="0.958" stop-color="#c6cdcf"/><stop offset="1" stop-color="#c6cccf"/></linearGradient>
<linearGradient id="g38"><stop offset="0" stop-color="#acb5bb"/><stop offset="0.0125" stop-color="#aeb8bd"/><stop offset="0.025" stop-color="#b1babf"/><stop offset="0.05" stop-color="#b5bec3"/><stop offset="0.08" stop-color="#b8c1c5"/><stop offset="0.1125" stop-color="#bbc3c7"/><stop offset="0.16" stop-color="#bec5c9"/><stop offset="0.2" stop-color="#c0c7cb"/><stop offset="0.25" stop-color="#c2c9cc"/><stop offset="0.3" stop-color="#c5cbce"/><stop offset="0.375" stop-color="#c6cdcf"/><stop offset="0.45" stop-color="#c7cdd0"/><stop offset="0.5" stop-color="#c7cdd0"/><stop offset="0.6" stop-color="#c7cdcf"/><stop offset="0.65" stop-color="#c7cdcf"/><stop offset="0.75" stop-color="#c7cdcf"/><stop offset="0.8" stop-color="#c7cdcf"/><stop offset="0.9" stop-color="#c6cdcf"/><stop offset="0.958" stop-color="#c6cdcf"/><stop offset="1" stop-color="#c5ccce"/></linearGradient>
<linearGradient id="g39"><stop offset="0" stop-color="#acb5bb"/><stop offset="0.0125" stop-color="#aeb8bd"/><stop offset="0.025" stop-color="#b1babf"/><stop offset="0.05" stop-color="#b5bec3"/><stop offset="0.08" stop-color="#b8c1c5"/><stop offset="0.1125" stop-color="#bbc3c7"/><stop offset="0.16" stop-color="#bec6c9"/><stop offset="0.2" stop-color="#c0c7cb"/><stop offset="0.25" stop-color="#c2c9cd"/><stop offset="0.3" stop-color="#c5cbce"/><stop offset="0.375" stop-color="#c6cdcf"/><stop offset="0.45" stop-color="#c7cdd0"/><stop offset="0.5" stop-color="#c7cdd0"/><stop offset="0.6" stop-color="#c7cdcf"/><stop offset="0.65" stop-color="#c7cdcf"/><stop offset="0.75" stop-color="#c7cdcf"/><stop offset="0.8" stop-color="#c7cdcf"/><stop offset="0.9" stop-color="#c6cdcf"/><stop offset="0.958" stop-color="#c6cccf"/><stop offset="1" stop-color="#c5ccce"/></linearGradient>
<linearGradient id="g40"><stop offset="0" stop-color="#acb5bb"/><stop offset="0.0125" stop-color="#afb8bd"/><stop offset="0.025" stop-color="#b1bac0"/><stop offset="0.05" stop-color="#b5bfc3"/><stop offset="0.08" stop-color="#b8c1c5"/><stop offset="0.1125" stop-color="#bbc4c7"/><stop offset="0.16" stop-color="#bec6c9"/><stop offset="0.2" stop-color="#c0c8cb"/><stop offset="0.25" stop-color="#c3c9cd"/><stop offset="0.3" stop-color="#c5cbce"/><stop offset="0.375" stop-color="#c7cdcf"/><stop offset="0.45" stop-color="#c7cdd0"/><stop offset="0.5" stop-color="#c8ced0"/><stop offset="0.6" stop-color="#c7cdcf"/><stop offset="0.65" stop-color="#c7cdcf"/><stop offset="0.75" stop-color="#c7cdcf"/><stop offset="0.8" stop-color="#c7cdcf"/><stop offset="0.9" stop-color="#c6cccf"/><stop offset="0.958" stop-color="#c6cccf"/><stop offset="1" stop-color="#c5ccce"/></linearGradient>
<linearGradient id="g41"><stop offset="0" stop-color="#acb5bb"/><stop offset="0.0125" stop-color="#afb8be"/><stop offset="0.025" stop-color="#b1bbc0"/><stop offset="0.05" stop-color="#b6bfc3"/><stop offset="0.08" stop-color="#b9c1c5"/><stop offset="0.1125" stop-color="#bcc4c7"/><stop offset="0.16" stop-color="#bec6c9"/><stop offset="0.2" stop-color="#c0c8cb"/><stop offset="0.25" stop-color="#c3cacd"/><stop offset="0.3" stop-color="#c5cbce"/><stop offset="0.375" stop-color="#c7cdcf"/><stop offset="0.45" stop-color="#c7cdd0"/><stop offset="0.5" stop-color="#c8ced0"/><stop offset="0.6" stop-color="#c7cdcf"/><stop offset="0.65" stop-color="#c7cdcf"/><stop offset="0.75" stop-color="#c7cdcf"/><stop offset="0.8" stop-color="#c7cdcf"/><stop offset="0.9" stop-color="#c6cccf"/><stop offset="0.958" stop-color="#c5ccce"/><stop offset="1" stop-color="#c5cbce"/></linearGradient>
<linearGradient id="g42"><stop offset="0" stop-color="#acb5bb"/><stop offset="0.0125" stop-color="#afb8be"/><stop offset="0.025" stop-color="#b2bbc0"/><stop offset="0.05" stop-color="#b6bfc3"/><stop offset="0.08" stop-color="#b9c2c5"/><stop offset="0.1125" stop-color="#bcc4c8"/><stop offset="0.16" stop-color="#bec6ca"/><stop offset="0.2" stop-color="#c1c8cb"/><stop offset="0.25" stop-color="#c3cacd"/><stop offset="0.3" stop-color="#c5cbce"/><stop offset="0.375" stop-color="#c7cdcf"/><stop offset="0.45" stop-color="#c7cdd0"/><stop offset="0.5" stop-color="#c8ced0"/><stop offset="0.6" stop-color="#c7cdcf"/><stop offset="0.65" stop-color="#c7cdcf"/><stop offset="0.75" stop-color="#c7cdcf"/><stop offset="0.8" stop-color="#c7cdcf"/><stop offset="0.9" stop-color="#c6cccf"/><stop offset="0.958" stop-color="#c5ccce"/><stop offset="1" stop-color="#c5cbce"/></linearGradient>
<linearGradient id="g43"><stop offset="0" stop-color="#acb5bb"/><stop offset="0.0125" stop-color="#afb8be"/><stop offset="0.025" stop-color="#b2bbc0"/><stop offset="0.05" stop-color="#b6bfc4"/><stop offset="0.08" stop-color="#b9c2c6"/><stop offset="0.1125" stop-color="#bcc4c8"/><stop offset="0.16" stop-color="#bfc6ca"/><stop offset="0.2" stop-color="#c1c8cb"/><stop offset="0.25" stop-color="#c3cacd"/><stop offset="0.3" stop-color="#c5cccf"/><stop offset="0.375" stop-color="#c7cdcf"/><stop offset="0.45" stop-color="#c7cdd0"/><stop offset="0.5" stop-color="#c8ced0"/><stop offset="0.6" stop-color="#c7cdcf"/><stop offset="0.65" stop-color="#c7cdcf"/><stop offset="0.75" stop-color="#c7cdcf"/><stop offset="0.8" stop-color="#c6cccf"/><stop offset="0.9" stop-color="#c6ccce"/><stop offset="0.958" stop-color="#c5ccce"/><stop offset="1" stop-color="#c4cbcd"/></linearGradient>
<linearGradient id="g44"><stop offset="0" stop-color="#acb5bb"/><stop offset="0.0125" stop-color="#afb8be"/><stop offset="0.025" stop-color="#b2bbc0"/><stop offset="0.05" stop-color="#b6c0c4"/><stop offset="0.08" stop-color="#b9c2c6"/><stop offset="0.1125" stop-color="#bcc5c8"/><stop offset="0.16" stop-color="#bfc7ca"/><stop offset="0.2" stop-color="#c1c8cb"/><stop offset="0.25" stop-color="#c3cacd"/><stop offset="0.3" stop-color="#c5cccf"/><stop offset="0.375" stop-color="#c7cdcf"/><stop offset="0.45" stop-color="#c7cdd0"/><stop offset="0.5" stop-color="#c8ced0"/><stop offset="0.6" stop-color="#c7cdcf"/><stop offset="0.65" stop-color="#c7cdcf"/><stop offset="0.75" stop-color="#c7cdcf"/><stop offset="0.8" stop-color="#c6cccf"/><stop offset="0.9" stop-color="#c5ccce"/><stop offset="0.958" stop-color="#c5ccce"/><stop offset="1" stop-color="#c4cbcd"/></linearGradient>
<linearGradient id="g45"><stop offset="0" stop-color="#acb5bb"/><stop offset="0.0125" stop-color="#afb8be"/><stop offset="0.025" stop-color="#b2bbc0"/><stop offset="0.05" stop-color="#b7c0c4"/><stop offset="0.08" stop-color="#bac2c6"/><stop offset="0.1125" stop-color="#bdc5c8"/><stop offset="0.16" stop-color="#bfc7ca"/><stop offset="0.2" stop-color="#c1c8cb"/><stop offset="0.25" stop-color="#c3cacd"/><stop offset="0.3" stop-color="#c6cccf"/><stop offset="0.375" stop-color="#c7cdcf"/><stop offset="0.45" stop-color="#c7cdd0"/><stop offset="0.5" stop-color="#c8ced0"/><stop offset="0.6" stop-color="#c7cdcf"/><stop offset="0.65" stop-color="#c7cdcf"/><stop offset="0.75" stop-color="#c7cdcf"/><stop offset="0.8" stop-color="#c6cccf"/><stop offset="0.9" stop-color="#c5ccce"/><stop offset="0.958" stop-color="#c5ccce"/><stop offset="1" stop-color="#c4cbcd"/></linearGradient>
<linearGradient id="g46"><stop offset="0" stop-color="#acb5bb"/><stop offset="0.0125" stop-color="#afb8be"/><stop offset="0.025" stop-color="#b2bbc0"/><stop offset="0.05" stop-color="#b7c0c4"/><stop offset="0.08" stop-color="#bac3c6"/><stop offset="0.1125" stop-color="#bdc5c8"/><stop offset="0.16" stop-color="#bfc7ca"/><stop offset="0.2" stop-color="#c1c8cb"/><stop offset="0.25" stop-color="#c3cacd"/><stop offset="0.3" stop-color="#c6cccf"/><stop offset="0.375" stop-color="#c7cdcf"/><stop offset="0.45" stop-color="#c7cdd0"/><stop offset="0.5" stop-color="#c8ced0"/><stop offset="0.6" stop-color="#c7cdcf"/><stop offset="0.65" stop-color="#c7cdcf"/><stop offset="0.75" stop-color="#c6cccf"/><stop offset="0.8" stop-color="#c6cccf"/><stop offset="0.9" stop-color="#c5ccce"/><stop offset="0.958" stop-color="#c5cbce"/><stop offset="1" stop-color="#c4cbcd"/></linearGradient>
<linearGradient id="g47"><stop offset="0" stop-color="#acb5bb"/><stop offset="0.0125" stop-color="#afb9be"/><stop offset="0.025" stop-color="#b3bcc1"/><stop offset="0.05" stop-color="#b7c0c4"/><stop offset="0.08" stop-color="#bac3c6"/><stop offset="0.1125" stop-color="#bdc5c9"/><stop offset="0.16" stop-color="#bfc7ca"/><stop offset="0.2" stop-color="#c1c8cc"/><stop offset="0.25" stop-color="#c4cacd"/><stop offset="0.3" stop-color="#c6cccf"/><stop offset="0.375" stop-color="#c7cdcf"/><stop offset="0.45" stop-color="#c7cdd0"/><stop offset="0.5" stop-color="#c8ced0"/><stop offset="0.6" stop-color="#c7cdd0"/><stop offset="0.65" stop-color="#c7cdcf"/><stop offset="0.75" stop-color="#c6cccf"/><stop offset="0.8" stop-color="#c6cccf"/><stop offset="0.9" stop-color="#c5ccce"/><stop offset="0.958" stop-color="#c4cbcd"/><stop offset="1" stop-color="#c4cacd"/></linearGradient>
<linearGradient id="g48"><stop offset="0" stop-color="#acb5bb"/><stop offset="0.0125" stop-color="#b0b9be"/><stop offset="0.025" stop-color="#b3bcc1"/><stop offset="0.05" stop-color="#b8c1c5"/><stop offset="0.08" stop-color="#bac3c7"/><stop offset="0.1125" stop-color="#bec6c9"/><stop offset="0.16" stop-color="#c0c7ca"/><stop offset="0.2" stop-color="#c1c9cc"/><stop offset="0.25" stop-color="#c4cacd"/><stop offset="0.3" stop-color="#c6cccf"/><stop offset="0.375" stop-color="#c7cdcf"/><stop offset="0.45" stop-color="#c7cdd0"/><stop offset="0.5" stop-color="#c8ced0"/><stop offset="0.6" stop-color="#c7cdd0"/><stop offset="0.65" stop-color="#c7cdcf"/><stop offset="0.75" stop-color="#c6cccf"/><stop offset="0.8" stop-color="#c6cccf"/><stop offset="0.9" stop-color="#c5ccce"/><stop offset="0.958" stop-color="#c4cbcd"/><stop offset="1" stop-color="#c3cacc"/></linearGradient>
<linearGradient id="g49"><stop offset="0" stop-color="#acb5bb"/><stop offset="0.0125" stop-color="#b0b9be"/><stop offset="0.025" stop-color="#b3bcc1"/><stop offset="0.05" stop-color="#b8c1c5"/><stop offset="0.08" stop-color="#bbc3c7"/><stop offset="0.1125" stop-color="#bec6c9"/><stop offset="0.16" stop-color="#c0c7ca"/><stop offset="0.2" stop-color="#c2c9cc"/><stop offset="0.25" stop-color="#c4cacd"/><stop offset="0.3" stop-color="#c6cccf"/><stop offset="0.375" stop-color="#c7cdcf"/><stop offset="0.45" stop-color="#c7cdd0"/><stop offset="0.5" stop-color="#c8ced0"/><stop offset="0.6" stop-color="#c7cdd0"/><stop offset="0.65" stop-color="#c7cdcf"/><stop offset="0.75" stop-color="#c6cccf"/><stop offset="0.8" stop-color="#c6cccf"/><stop offset="0.9" stop-color="#c5cbce"/><stop offset="0.958" stop-color="#c4cbcd"/><stop offset="1" stop-color="#c3cacc"/></linearGradient>
<linearGradient id="g50"><stop offset="0" stop-color="#acb5bb"/><stop offset="0.0125" stop-color="#b0b9be"/><stop offset="0.025" stop-color="#b3bcc1"/><stop offset="0.05" stop-color="#b8c1c5"/><stop offset="0.08" stop-color="#bbc3c7"/><stop offset="0.1125" stop-color="#bec6c9"/><stop offset="0.16" stop-color="#c0c8cb"/><stop offset="0.2" stop-color="#c2c9cc"/><stop offset="0.25" stop-color="#c4cacd"/><stop offset="0.3" stop-color="#c6cccf"/><stop offset="0.375" stop-color="#c7cdcf"/><stop offset="0.45" stop-color="#c8ced0"/><stop offset="0.5" stop-color="#c8ced0"/><stop offset="0.6" stop-color="#c7cdd0"/><stop offset="0.65" stop-color="#c7cdd0"/><stop offset="0.75" stop-color="#c6cccf"/><stop offset="0.8" stop-color="#c6cccf"/><stop offset="0.9" stop-color="#c5cbce"/><stop offset="0.958" stop-color="#c4cbcd"/><stop offset="1" stop-color="#c3cacc"/></linearGradient>
<linearGradient id="g51"><stop offset="0" stop-color="#acb5bb"/><stop offset="0.0125" stop-color="#b0b9be"/><stop offset="0.025" stop-color="#b3bcc1"/><stop offset="0.05" stop-color="#b8c1c5"/><stop offset="0.08" stop-color="#bbc4c7"/><stop offset="0.1125" stop-color="#bec6c9"/><stop offset="0.16" stop-color="#c0c8cb"/><stop offset="0.2" stop-color="#c2c9cc"/><stop offset="0.25" stop-color="#c4cace"/><stop offset="0.3" stop-color="#c6cccf"/><stop offset="0.375" stop-color="#c7cdd0"/><stop offset="0.45" stop-color="#c8ced0"/><stop offset="0.5" stop-color="#c8ced0"/><stop offset="0.6" stop-color="#c7cdd0"/><stop offset="0.65" stop-color="#c7cdd0"/><stop offset="0.75" stop-color="#c6cccf"/><stop offset="0.8" stop-color="#c6cccf"/><stop offset="0.9" stop-color="#c5cbce"/><stop offset="0.958" stop-color="#c4cbcd"/><stop offset="1" stop-color="#c3cacc"/></linearGradient>
<linearGradient id="g52"><stop offset="0" stop-color="#acb5bb"/><stop offset="0.0125" stop-color="#b0b9be"/><stop offset="0.025" stop-color="#b3bcc1"/><stop offset="0.05" stop-color="#b8c1c5"/><stop offset="0.08" stop-color="#bbc4c7"/><stop offset="0.1125" stop-color="#bec6c9"/><stop offset="0.16" stop-color="#c0c8cb"/><stop offset="0.2" stop-color="#c2c9cc"/><stop offset="0.25" stop-color="#c4cbce"/><stop offset="0.3" stop-color="#c6cccf"/><stop offset="0.375" stop-color="#c7cdd0"/><stop offset="0.45" stop-color="#c8ced0"/><stop offset="0.5" stop-color="#c8ced0"/><stop offset="0.6" stop-color="#c7cdd0"/><stop offset="0.65" stop-color="#c7cdd0"/><stop offset="0.75" stop-color="#c6cccf"/><stop offset="0.8" stop-color="#c6cccf"/><stop offset="0.9" stop-color="#c4cbce"/><stop offset="0.958" stop-color="#c4cbcd"/><stop offset="1" stop-color="#c3cacc"/></linearGradient>
<linearGradient id="g53"><stop offset="0" stop-color="#acb5bb"/><stop offset="0.0125" stop-color="#b0b9bf"/><stop offset="0.025" stop-color="#b3bcc1"/><stop offset="0.05" stop-color="#b8c1c5"/><stop offset="0.08" stop-color="#bbc4c7"/><stop offset="0.1125" stop-color="#bec6c9"/><stop offset="0.16" stop-color="#c0c8cb"/><stop offset="0.2" stop-color="#c2c9cc"/><stop offset="0.25" stop-color="#c4cbce"/><stop offset="0.3" stop-color="#c6cccf"/><stop offset="0.375" stop-color="#c7cdd0"/><stop offset="0.45" stop-color="#c8ced0"/><stop offset="0.5" stop-color="#c8ced0"/><stop offset="0.6" stop-color="#c7cdd0"/><stop offset="0.65" stop-color="#c7cdd0"/><stop offset="0.75" stop-color="#c6cccf"/><stop offset="0.8" stop-color="#c6cccf"/><stop offset="0.9" stop-color="#c4cbce"/><stop offset="0.958" stop-color="#c4cacd"/><stop offset="1" stop-color="#c3c9cc"/></linearGradient>
<linearGradient id="g54"><stop offset="0" stop-color="#adb6bc"/><stop offset="0.0125" stop-color="#b0b9bf"/><stop offset="0.025" stop-color="#b4bdc1"/><stop offset="0.05" stop-color="#b8c1c5"/><stop offset="0.08" stop-color="#bbc4c7"/><stop offset="0.1125" stop-color="#bec6c9"/><stop offset="0.16" stop-color="#c0c8cb"/><stop offset="0.2" stop-color="#c2c9cc"/><stop offset="0.25" stop-color="#c4cbce"/><stop offset="0.3" stop-color="#c6cccf"/><stop offset="0.375" stop-color="#c7cdd0"/><stop offset="0.45" stop-color="#c8ced0"/><stop offset="0.5" stop-color="#c8ced0"/><stop offset="0.6" stop-color="#c7cdd0"/><stop offset="0.65" stop-color="#c7cdd0"/><stop offset="0.75" stop-color="#c6cccf"/><stop offset="0.8" stop-color="#c6cccf"/><stop offset="0.9" stop-color="#c4cbce"/><stop offset="0.958" stop-color="#c3cacd"/><stop offset="1" stop-color="#c2c9cc"/></linearGradient>
<linearGradient id="g55"><stop offset="0" stop-color="#adb6bc"/><stop offset="0.0125" stop-color="#b0b9bf"/><stop offset="0.025" stop-color="#b4bdc2"/><stop offset="0.05" stop-color="#b8c1c5"/><stop offset="0.08" stop-color="#bbc4c7"/><stop offset="0.1125" stop-color="#bec6c9"/><stop offset="0.16" stop-color="#c0c8cb"/><stop offset="0.2" stop-color="#c2c9cc"/><stop offset="0.25" stop-color="#c4cbce"/><stop offset="0.3" stop-color="#c6cccf"/><stop offset="0.375" stop-color="#c7cdd0"/><stop offset="0.45" stop-color="#c8ced0"/><stop offset="0.5" stop-color="#c8ced0"/><stop offset="0.6" stop-color="#c7cdd0"/><stop offset="0.65" stop-color="#c7cdd0"/><stop offset="0.75" stop-color="#c6cccf"/><stop offset="0.8" stop-color="#c6cccf"/><stop offset="0.9" stop-color="#c4cbce"/><stop offset="0.958" stop-color="#c3cacd"/><stop offset="1" stop-color="#c2c9cc"/></linearGradient>
<linearGradient id="g56"><stop offset="0" stop-color="#adb6bc"/><stop offset="0.0125" stop-color="#b1babf"/><stop offset="0.025" stop-color="#b4bdc2"/><stop offset="0.05" stop-color="#b8c1c6"/><stop offset="0.08" stop-color="#bbc4c7"/><stop offset="0.1125" stop-color="#bec6c9"/><stop offset="0.16" stop-color="#c0c8cb"/><stop offset="0.2" stop-color="#c2c9cc"/><stop offset="0.25" stop-color="#c4cbce"/><stop offset="0.3" stop-color="#c6cdcf"/><stop offset="0.375" stop-color="#c7cdd0"/><stop offset="0.45" stop-color="#c8ced0"/><stop offset="0.5" stop-color="#c8ced0"/><stop offset="0.6" stop-color="#c7cdd0"/><stop offset="0.65" stop-color="#c7cdd0"/><stop offset="0.75" stop-color="#c6cccf"/><stop offset="0.8" stop-color="#c5cbcf"/><stop offset="0.9" stop-color="#c4cace"/><stop offset="0.958" stop-color="#c3cacd"/><stop offset="1" stop-color="#c2c9cc"/></linearGradient>
<linearGradient id="g57"><stop offset="0" stop-color="#adb6bc"/><stop offset="0.0125" stop-color="#b1babf"/><stop offset="0.025" stop-color="#b4bdc2"/><stop offset="0.05" stop-color="#b9c1c6"/><stop offset="0.08" stop-color="#bcc4c8"/><stop offset="0.1125" stop-color="#bec6c9"/><stop offset="0.16" stop-color="#c0c8cb"/><stop offset="0.2" stop-color="#c2c9cc"/><stop offset="0.25" stop-color="#c4cbce"/><stop offset="0.3" stop-color="#c7cdd0"/><stop offset="0.375" stop-color="#c8ced0"/><stop offset="0.45" stop-color="#c8ced0"/><stop offset="0.5" stop-color="#c8ced0"/><stop offset="0.6" stop-color="#c7cdd0"/><stop offset="0.65" stop-color="#c7cdd0"/><stop offset="0.75" stop-color="#c6cccf"/><stop offset="0.8" stop-color="#c5cbcf"/><stop offset="0.9" stop-color="#c4cacd"/><stop offset="0.958" stop-color="#c3cacd"/><stop offset="1" stop-color="#c2c9cc"/></linearGradient>
<linearGradient id="g58"><stop offset="0" stop-color="#adb6bc"/><stop offset="0.0125" stop-color="#b1babf"/><stop offset="0.025" stop-color="#b4bdc2"/><stop offset="0.05" stop-color="#b9c2c6"/><stop offset="0.08" stop-color="#bcc4c8"/><stop offset="0.1125" stop-color="#bec6ca"/><stop offset="0.16" stop-color="#c0c8cb"/><stop offset="0.2" stop-color="#c2c9cc"/><stop offset="0.25" stop-color="#c4cbce"/><stop offset="0.3" stop-color="#c7cdd0"/><stop offset="0.375" stop-color="#c8ced0"/><stop offset="0.45" stop-color="#c8ced0"/><stop offset="0.5" stop-color="#c8ced0"/><stop offset="0.6" stop-color="#c7cdd0"/><stop offset="0.65" stop-color="#c7cdd0"/><stop offset="0.75" stop-color="#c6cccf"/><stop offset="0.8" stop-color="#c5cbcf"/><stop offset="0.9" stop-color="#c4cacd"/><stop offset="0.958" stop-color="#c3cacd"/><stop offset="1" stop-color="#c2c9cc"/></linearGradient>
<linearGradient id="g59"><stop offset="0" stop-color="#adb6bc"/><stop offset="0.0125" stop-color="#b1babf"/><stop offset="0.025" stop-color="#b4bdc2"/><stop offset="0.05" stop-color="#b9c2c6"/><stop offset="0.08" stop-color="#bcc4c8"/><stop offset="0.1125" stop-color="#bec6ca"/><stop offset="0.16" stop-color="#c1c8cb"/><stop offset="0.2" stop-color="#c2c9cc"/><stop offset="0.25" stop-color="#c4cbce"/><stop offset="0.3" stop-color="#c7cdd0"/><stop offset="0.375" stop-color="#c8ced0"/><stop offset="0.45" stop-color="#c8ced0"/><stop offset="0.5" stop-color="#c9cfd1"/><stop offset="0.6" stop-color="#c7ced0"/><stop offset="0.65" stop-color="#c7cdd0"/><stop offset="0.75" stop-color="#c6cccf"/><stop offset="0.8" stop-color="#c5cbcf"/><stop offset="0.9" stop-color="#c4cacd"/><stop offset="0.958" stop-color="#c3c9cd"/><stop offset="1" stop-color="#c2c8cc"/></linearGradient>
<linearGradient id="g60"><stop offset="0" stop-color="#adb6bc"/><stop offset="0.0125" stop-color="#b1bac0"/><stop offset="0.025" stop-color="#b4bdc2"/><stop offset="0.05" stop-color="#b9c2c6"/><stop offset="0.08" stop-color="#bcc4c8"/><stop offset="0.1125" stop-color="#bec6ca"/><stop offset="0.16" stop-color="#c1c8cb"/><stop offset="0.2" stop-color="#c2c9cd"/><stop offset="0.25" stop-color="#c5cbce"/><stop offset="0.3" stop-color="#c7cdd0"/><stop offset="0.375" stop-color="#c8ced0"/><stop offset="0.45" stop-color="#c8ced1"/><stop offset="0.5" stop-color="#c9cfd1"/><stop offset="0.6" stop-color="#c7ced0"/><stop offset="0.65" stop-color="#c7cdd0"/><stop offset="0.75" stop-color="#c6cccf"/><stop offset="0.8" stop-color="#c5cbcf"/><stop offset="0.9" stop-color="#c3cacd"/><stop offset="0.958" stop-color="#c3c9cd"/><stop offset="1" stop-color="#c2c8cc"/></linearGradient>
<linearGradient id="g61"><stop offset="0" stop-color="#aeb7bd"/><stop offset="0.0125" stop-color="#b1bac0"/><stop offset="0.025" stop-color="#b5bec2"/><stop offset="0.05" stop-color="#b9c2c6"/><stop offset="0.08" stop-color="#bcc4c8"/><stop offset="0.1125" stop-color="#bfc6ca"/><stop offset="0.16" stop-color="#c1c8cb"/><stop offset="0.2" stop-color="#c2c9cd"/><stop offset="0.25" stop-color="#c5cbce"/><stop offset="0.3" stop-color="#c7cdd0"/><stop offset="0.375" stop-color="#c8ced0"/><stop offset="0.45" stop-color="#c8ced1"/><stop offset="0.5" stop-color="#c9cfd1"/><stop offset="0.6" stop-color="#c7ced0"/><stop offset="0.65" stop-color="#c7cdd0"/><stop offset="0.75" stop-color="#c6cccf"/><stop offset="0.8" stop-color="#c5cbcf"/><stop offset="0.9" stop-color="#c3cacd"/><stop offset="0.958" stop-color="#c2c9cd"/><stop offset="1" stop-color="#c1c8cc"/></linearGradient>
<linearGradient id="g62"><stop offset="0" stop-color="#aeb7bd"/><stop offset="0.0125" stop-color="#b1bac0"/><stop offset="0.025" stop-color="#b5bec3"/><stop offset="0.05" stop-color="#b9c2c6"/><stop offset="0.08" stop-color="#bcc4c8"/><stop offset="0.1125" stop-color="#bfc6ca"/><stop offset="0.16" stop-color="#c1c8cb"/><stop offset="0.2" stop-color="#c2c9cd"/><stop offset="0.25" stop-color="#c5cbce"/><stop offset="0.3" stop-color="#c7cdd0"/><stop offset="0.375" stop-color="#c8ced1"/><stop offset="0.45" stop-color="#c8ced1"/><stop offset="0.5" stop-color="#c9cfd1"/><stop offset="0.6" stop-color="#c7ced0"/><stop offset="0.65" stop-color="#c7cdd0"/><stop offset="0.75" stop-color="#c6cccf"/><stop offset="0.8" stop-color="#c5cbcf"/><stop offset="0.9" stop-color="#c3cacd"/><stop offset="0.958" stop-color="#c2c9cd"/><stop offset="1" stop-color="#c1c8cc"/></linearGradient>
<linearGradient id="g63"><stop offset="0" stop-color="#aeb7bd"/><stop offset="0.0125" stop-color="#b2bbc0"/><stop offset="0.025" stop-color="#b5bec3"/><stop offset="0.05" stop-color="#b9c2c6"/><stop offset="0.08" stop-color="#bcc4c8"/><stop offset="0.1125" stop-color="#bfc6ca"/><stop offset="0.16" stop-color="#c1c8cb"/><stop offset="0.2" stop-color="#c3cacd"/><stop offset="0.25" stop-color="#c5cbce"/><stop offset="0.3" stop-color="#c7cdd0"/><stop offset="0.375" stop-color="#c8ced1"/><stop offset="0.45" stop-color="#c9cfd1"/><stop offset="0.5" stop-color="#c9cfd1"/><stop offset="0.6" stop-color="#c7ced0"/><stop offset="0.65" stop-color="#c7cdd0"/><stop offset="0.75" stop-color="#c5cccf"/><stop offset="0.8" stop-color="#c5cbcf"/><stop offset="0.9" stop-color="#c3cacd"/><stop offset="0.958" stop-color="#c2c9cc"/><stop offset="1" stop-color="#c1c8cc"/></linearGradient>
<linearGradient id="g64"><stop offset="0" stop-color="#aeb7bd"/><stop offset="0.0125" stop-color="#b2bbc0"/><stop offset="0.025" stop-color="#b5bec3"/><stop offset="0.05" stop-color="#b9c2c6"/><stop offset="0.08" stop-color="#bcc4c8"/><stop offset="0.1125" stop-color="#bfc6ca"/><stop offset="0.16" stop-color="#c1c8cc"/><stop offset="0.2" stop-color="#c3cacd"/><stop offset="0.25" stop-color="#c5cbce"/><stop offset="0.3" stop-color="#c7cdd0"/><stop offset="0.375" stop-color="#c8ced1"/><stop offset="0.45" stop-color="#c9cfd1"/><stop offset="0.5" stop-color="#c9cfd1"/><stop offset="0.6" stop-color="#c7ced0"/><stop offset="0.65" stop-color="#c7cdd0"/><stop offset="0.75" stop-color="#c5cccf"/><stop offset="0.8" stop-color="#c5cbcf"/><stop offset="0.9" stop-color="#c3c9cd"/><stop offset="0.958" stop-color="#c2c9cc"/><stop offset="1" stop-color="#c1c8cc"/></linearGradient>
<linearGradient id="g65"><stop offset="0" stop-color="#aeb7bd"/><stop offset="0.0125" stop-color="#b2bbc0"/><stop offset="0.025" stop-color="#b5bec3"/><stop offset="0.05" stop-color="#b9c2c6"/><stop offset="0.08" stop-color="#bcc5c8"/><stop offset="0.1125" stop-color="#bfc7ca"/><stop offset="0.16" stop-color="#c1c8cc"/><stop offset="0.2" stop-color="#c3cacd"/><stop offset="0.25" stop-color="#c5cbce"/><stop offset="0.3" stop-color="#c7cdd0"/><stop offset="0.375" stop-color="#c9cfd1"/><stop offset="0.45" stop-color="#c9cfd1"/><stop offset="0.5" stop-color="#c9cfd1"/><stop offset="0.6" stop-color="#c7ced0"/><stop offset="0.65" stop-color="#c7cdd0"/><stop offset="0.75" stop-color="#c5cbcf"/><stop offset="0.8" stop-color="#c5cbcf"/><stop offset="0.9" stop-color="#c3c9cd"/><stop offset="0.958" stop-color="#c2c8cc"/><stop offset="1" stop-color="#c1c7cc"/></linearGradient>
<linearGradient id="g66"><stop offset="0" stop-color="#aeb7bd"/><stop offset="0.0125" stop-color="#b2bbc0"/><stop offset="0.025" stop-color="#b5bec3"/><stop offset="0.05" stop-color="#b9c2c6"/><stop offset="0.08" stop-color="#bcc5c8"/><stop offset="0.1125" stop-color="#bfc7ca"/><stop offset="0.16" stop-color="#c1c8cc"/><stop offset="0.2" stop-color="#c3cacd"/><stop offset="0.25" stop-color="#c5cbcf"/><stop offset="0.3" stop-color="#c7cdd0"/><stop offset="0.375" stop-color="#c9cfd1"/><stop offset="0.45" stop-color="#c9cfd1"/><stop offset="0.5" stop-color="#c9cfd1"/><stop offset="0.6" stop-color="#c7ced0"/><stop offset="0.65" stop-color="#c7cdd0"/><stop offset="0.75" stop-color="#c5cbcf"/><stop offset="0.8" stop-color="#c5cbcf"/><stop offset="0.9" stop-color="#c3c9cd"/><stop offset="0.958" stop-color="#c2c8cc"/><stop offset="1" stop-color="#c1c7cc"/></linearGradient>
<linearGradient id="g67"><stop offset="0" stop-color="#aeb7bd"/><stop offset="0.0125" stop-color="#b2bbc0"/><stop offset="0.025" stop-color="#b5bec3"/><stop offset="0.05" stop-color="#b9c2c6"/><stop offset="0.08" stop-color="#bcc5c8"/><stop offset="0.1125" stop-color="#bfc7ca"/><stop offset="0.16" stop-color="#c1c8cc"/><stop offset="0.2" stop-color="#c3cacd"/><stop offset="0.25" stop-color="#c5cccf"/><stop offset="0.3" stop-color="#c7cdd0"/><stop offset="0.375" stop-color="#c9cfd1"/><stop offset="0.45" stop-color="#c9cfd1"/><stop offset="0.5" stop-color="#c9cfd1"/><stop offset="0.6" stop-color="#c7ced0"/><stop offset="0.65" stop-color="#c7cdd0"/><stop offset="0.75" stop-color="#c5cbcf"/><stop offset="0.8" stop-color="#c5cbcf"/><stop offset="0.9" stop-color="#c3c9cd"/><stop offset="0.958" stop-color="#c2c8cc"/><stop offset="1" stop-color="#c1c7cc"/></linearGradient>
<linearGradient id="g68"><stop offset="0" stop-color="#afb8be"/><stop offset="0.0125" stop-color="#b2bbc1"/><stop offset="0.025" stop-color="#b6bfc3"/><stop offset="0.05" stop-color="#b9c2c6"/><stop offset="0.08" stop-color="#bcc5c9"/><stop offset="0.1125" stop-color="#bfc7ca"/><stop offset="0.16" stop-color="#c1c8cc"/><stop offset="0.2" stop-color="#c3cacd"/><stop offset="0.25" stop-color="#c5cccf"/><stop offset="0.3" stop-color="#c7cdd0"/><stop offset="0.375" stop-color="#c9cfd1"/><stop offset="0.45" stop-color="#c9cfd1"/><stop offset="0.5" stop-color="#c9cfd1"/><stop offset="0.6" stop-color="#c7ced0"/><stop offset="0.65" stop-color="#c6cdd0"/><stop offset="0.75" stop-color="#c5cbcf"/><stop offset="0.8" stop-color="#c4cace"/><stop offset="0.9" stop-color="#c3c9cd"/><stop offset="0.958" stop-color="#c1c8cc"/><stop offset="1" stop-color="#c0c7cb"/></linearGradient>
<linearGradient id="g69"><stop offset="0" stop-color="#afb8be"/><stop offset="0.0125" stop-color="#b2bbc1"/><stop offset="0.025" stop-color="#b6bfc4"/><stop offset="0.05" stop-color="#b9c2c7"/><stop offset="0.08" stop-color="#bdc5c9"/><stop offset="0.1125" stop-color="#bfc7ca"/><stop offset="0.16" stop-color="#c1c8cc"/><stop offset="0.2" stop-color="#c3cacd"/><stop offset="0.25" stop-color="#c5cccf"/><stop offset="0.3" stop-color="#c7ced0"/><stop offset="0.375" stop-color="#c9cfd1"/><stop offset="0.45" stop-color="#c9cfd1"/><stop offset="0.5" stop-color="#c9cfd1"/><stop offset="0.6" stop-color="#c7ced0"/><stop offset="0.65" stop-color="#c6cdd0"/><stop offset="0.75" stop-color="#c5cbcf"/><stop offset="0.8" stop-color="#c4cace"/><stop offset="0.9" stop-color="#c2c9cd"/><stop offset="0.958" stop-color="#c1c8cc"/><stop offset="1" stop-color="#c0c7cb"/></linearGradient>
<linearGradient id="g70"><stop offset="0" stop-color="#afb8be"/><stop offset="0.0125" stop-color="#b2bbc1"/><stop offset="0.025" stop-color="#b6bfc4"/><stop offset="0.05" stop-color="#bac2c7"/><stop offset="0.08" stop-color="#bdc5c9"/><stop offset="0.1125" stop-color="#bfc7ca"/><stop offset="0.16" stop-color="#c1c8cc"/><stop offset="0.2" stop-color="#c3cacd"/><stop offset="0.25" stop-color="#c5cccf"/><stop offset="0.3" stop-color="#c7ced0"/><stop offset="0.375" stop-color="#c9cfd1"/><stop offset="0.45" stop-color="#c9cfd1"/><stop offset="0.5" stop-color="#c9cfd1"/><stop offset="0.6" stop-color="#c7ced0"/><stop offset="0.65" stop-color="#c6cdd0"/><stop offset="0.75" stop-color="#c5cbcf"/><stop offset="0.8" stop-color="#c4cace"/><stop offset="0.9" stop-color="#c2c9cd"/><stop offset="0.958" stop-color="#c1c8cc"/><stop offset="1" stop-color="#c0c7cb"/></linearGradient>
<linearGradient id="g71"><stop offset="0" stop-color="#afb8be"/><stop offset="0.0125" stop-color="#b3bcc1"/><stop offset="0.025" stop-color="#b6bfc4"/><stop offset="0.05" stop-color="#bac2c7"/><stop offset="0.08" stop-color="#bdc5c9"/><stop offset="0.1125" stop-color="#bfc7ca"/><stop offset="0.16" stop-color="#c1c8cc"/><stop offset="0.2" stop-color="#c3cacd"/><stop offset="0.25" stop-color="#c5cccf"/><stop offset="0.3" stop-color="#c8ced0"/><stop offset="0.375" stop-color="#c9cfd1"/><stop offset="0.45" stop-color="#c9cfd1"/><stop offset="0.5" stop-color="#c9cfd1"/><stop offset="0.6" stop-color="#c7ced0"/><stop offset="0.65" stop-color="#c6cdd0"/><stop offset="0.75" stop-color="#c5cbcf"/><stop offset="0.8" stop-color="#c4cace"/><stop offset="0.9" stop-color="#c2c8cd"/><stop offset="0.958" stop-color="#c1c7cc"/><stop offset="1" stop-color="#c0c6cb"/></linearGradient>
<linearGradient id="g72"><stop offset="0" stop-color="#afb8be"/><stop offset="0.0125" stop-color="#b3bcc1"/><stop offset="0.025" stop-color="#b6bfc4"/><stop offset="0.05" stop-color="#bac2c7"/><stop offset="0.08" stop-color="#bdc5c9"/><stop offset="0.1125" stop-color="#bfc7ca"/><stop offset="0.16" stop-color="#c1c8cc"/><stop offset="0.2" stop-color="#c3cacd"/><stop offset="0.25" stop-color="#c5cccf"/><stop offset="0.3" stop-color="#c8ced1"/><stop offset="0.375" stop-color="#c9cfd2"/><stop offset="0.45" stop-color="#c9cfd1"/><stop offset="0.5" stop-color="#c9cfd1"/><stop offset="0.6" stop-color="#c7ced0"/><stop offset="0.65" stop-color="#c6cdd0"/><stop offset="0.75" stop-color="#c5cbcf"/><stop offset="0.8" stop-color="#c4cace"/><stop offset="0.9" stop-color="#c2c8cd"/><stop offset="0.958" stop-color="#c1c7cc"/><stop offset="1" stop-color="#c0c6cb"/></linearGradient>
<linearGradient id="g73"><stop offset="0" stop-color="#afb8be"/><stop offset="0.0125" stop-color="#b3bcc1"/><stop offset="0.025" stop-color="#b6bfc4"/><stop offset="0.05" stop-color="#bac2c7"/><stop offset="0.08" stop-color="#bdc5c9"/><stop offset="0.1125" stop-color="#bfc7ca"/><stop offset="0.16" stop-color="#c1c8cc"/><stop offset="0.2" stop-color="#c3cacd"/><stop offset="0.25" stop-color="#c5cccf"/><stop offset="0.3" stop-color="#c8ced1"/><stop offset="0.375" stop-color="#c9cfd2"/><stop offset="0.45" stop-color="#c9cfd1"/><stop offset="0.5" stop-color="#c9cfd1"/><stop offset="0.6" stop-color="#c7ced0"/><stop offset="0.65" stop-color="#c6cdd0"/><stop offset="0.75" stop-color="#c5cbcf"/><stop offset="0.8" stop-color="#c4cace"/><stop offset="0.9" stop-color="#c2c8cd"/><stop offset="0.958" stop-color="#c1c7cc"/><stop offset="1" stop-color="#c0c6cb"/></linearGradient>
<linearGradient id="g74"><stop offset="0" stop-color="#afb8be"/><stop offset="0.0125" stop-color="#b3bcc1"/><stop offset="0.025" stop-color="#b6bfc4"/><stop offset="0.05" stop-color="#bac3c7"/><stop offset="0.08" stop-color="#bdc5c9"/><stop offset="0.1125" stop-color="#bfc7cb"/><stop offset="0.16" stop-color="#c1c9cc"/><stop offset="0.2" stop-color="#c3cacd"/><stop offset="0.25" stop-color="#c5cccf"/><stop offset="0.3" stop-color="#c8ced1"/><stop offset="0.375" stop-color="#cad0d2"/><stop offset="0.45" stop-color="#c9cfd2"/><stop offset="0.5" stop-color="#c9cfd1"/><stop offset="0.6" stop-color="#c7ced0"/><stop offset="0.65" stop-color="#c6cdd0"/><stop offset="0.75" stop-color="#c5cbcf"/><stop offset="0.8" stop-color="#c4cace"/><stop offset="0.9" stop-color="#c2c8cd"/><stop offset="0.958" stop-color="#c1c7cc"/><stop offset="1" stop-color="#c0c6cb"/></linearGradient>
<linearGradient id="g75"><stop offset="0" stop-color="#b0b9bf"/><stop offset="0.0125" stop-color="#b3bcc2"/><stop offset="0.025" stop-color="#b7c0c4"/><stop offset="0.05" stop-color="#bac3c7"/><stop offset="0.08" stop-color="#bdc5c9"/><stop offset="0.1125" stop-color="#bfc7cb"/><stop offset="0.16" stop-color="#c1c9cc"/><stop offset="0.2" stop-color="#c3cace"/><stop offset="0.25" stop-color="#c6cccf"/><stop offset="0.3" stop-color="#c8ced1"/><stop offset="0.375" stop-color="#cad0d2"/><stop offset="0.45" stop-color="#cad0d2"/><stop offset="0.5" stop-color="#c9cfd1"/><stop offset="0.6" stop-color="#c7ced0"/><stop offset="0.65" stop-color="#c6cdd0"/><stop offset="0.75" stop-color="#c5cbcf"/><stop offset="0.8" stop-color="#c4cace"/><stop offset="0.9" stop-color="#c2c8cd"/><stop offset="0.958" stop-color="#c0c7cc"/><stop offset="1" stop-color="#bfc6cb"/></linearGradient>
<linearGradient id="g76"><stop offset="0" stop-color="#b0b9bf"/><stop offset="0.0125" stop-color="#b3bcc2"/><stop offset="0.025" stop-color="#b7c0c5"/><stop offset="0.05" stop-color="#bac3c7"/><stop offset="0.08" stop-color="#bdc5c9"/><stop offset="0.1125" stop-color="#bfc7cb"/><stop offset="0.16" stop-color="#c1c9cc"/><stop offset="0.2" stop-color="#c3cace"/><stop offset="0.25" stop-color="#c6cccf"/><stop offset="0.3" stop-color="#c8ced1"/><stop offset="0.375" stop-color="#cad0d2"/><stop offset="0.45" stop-color="#cad0d2"/><stop offset="0.5" stop-color="#c9cfd1"/><stop offset="0.6" stop-color="#c7ced0"/><stop offset="0.65" stop-color="#c6cdd0"/><stop offset="0.75" stop-color="#c5cbcf"/><stop offset="0.8" stop-color="#c4cace"/><stop offset="0.9" stop-color="#c2c8cd"/><stop offset="0.958" stop-color="#c0c7cc"/><stop offset="1" stop-color="#bfc6cb"/></linearGradient>
<linearGradient id="g77"><stop offset="0" stop-color="#b0b9bf"/><stop offset="0.0125" stop-color="#b3bcc2"/><stop offset="0.025" stop-color="#b7c0c5"/><stop offset="0.05" stop-color="#bac3c7"/><stop offset="0.08" stop-color="#bdc5c9"/><stop offset="0.1125" stop-color="#bfc7cb"/><stop offset="0.16" stop-color="#c2c9cc"/><stop offset="0.2" stop-color="#c3cace"/><stop offset="0.25" stop-color="#c6cccf"/><stop offset="0.3" stop-color="#c8ced1"/><stop offset="0.375" stop-color="#cad0d2"/><stop offset="0.45" stop-color="#cad0d2"/><stop offset="0.5" stop-color="#cad0d2"/><stop offset="0.6" stop-color="#c7ced0"/><stop offset="0.65" stop-color="#c6cdd0"/><stop offset="0.75" stop-color="#c5cbcf"/><stop offset="0.8" stop-color="#c4cace"/><stop offset="0.9" stop-color="#c1c8cd"/><stop offset="0.958" stop-color="#c0c6cc"/><stop offset="1" stop-color="#bfc5cb"/></linearGradient>
<linearGradient id="g78"><stop offset="0" stop-color="#b0b9bf"/><stop offset="0.0125" stop-color="#b4bdc2"/><stop offset="0.025" stop-color="#b7c0c5"/><stop offset="0.05" stop-color="#bac3c7"/><stop offset="0.08" stop-color="#bdc5c9"/><stop offset="0.1125" stop-color="#bfc7cb"/><stop offset="0.16" stop-color="#c2c9cc"/><stop offset="0.2" stop-color="#c3cace"/><stop offset="0.25" stop-color="#c6cccf"/><stop offset="0.3" stop-color="#c8ced1"/><stop offset="0.375" stop-color="#cad0d2"/><stop offset="0.45" stop-color="#cad0d2"/><stop offset="0.5" stop-color="#cad0d2"/><stop offset="0.6" stop-color="#c7ced0"/><stop offset="0.65" stop-color="#c6cdd0"/><stop offset="0.75" stop-color="#c4cbcf"/><stop offset="0.8" stop-color="#c4cace"/><stop offset="0.9" stop-color="#c1c8cd"/><stop offset="0.958" stop-color="#c0c6cc"/><stop offset="1" stop-color="#bfc5cb"/></linearGradient>
<linearGradient id="g79"><stop offset="0" stop-color="#b0b9bf"/><stop offset="0.0125" stop-color="#b4bdc2"/><stop offset="0.025" stop-color="#b7c0c5"/><stop offset="0.05" stop-color="#bac3c7"/><stop offset="0.08" stop-color="#bdc6c9"/><stop offset="0.1125" stop-color="#bfc7cb"/><stop offset="0.16" stop-color="#c2c9cd"/><stop offset="0.2" stop-color="#c4cace"/><stop offset="0.25" stop-color="#c6cccf"/><stop offset="0.3" stop-color="#c8ced1"/><stop offset="0.375" stop-color="#cad0d2"/><stop offset="0.45" stop-color="#cad0d2"/><stop offset="0.5" stop-color="#cad0d2"/><stop offset="0.6" stop-color="#c7ced0"/><stop offset="0.65" stop-color="#c6cdd0"/><stop offset="0.75" stop-color="#c4cbcf"/><stop offset="0.8" stop-color="#c4cace"/><stop offset="0.9" stop-color="#c1c7cd"/><stop offset="0.958" stop-color="#c0c6cc"/><stop offset="1" stop-color="#bfc5cb"/></linearGradient>
<linearGradient id="g80"><stop offset="0" stop-color="#b0b9bf"/><stop offset="0.0125" stop-color="#b4bdc2"/><stop offset="0.025" stop-color="#b7c0c5"/><stop offset="0.05" stop-color="#bac3c7"/><stop offset="0.08" stop-color="#bec6ca"/><stop offset="0.1125" stop-color="#bfc7cb"/><stop offset="0.16" stop-color="#c2c9cd"/><stop offset="0.2" stop-color="#c4cace"/><stop offset="0.25" stop-color="#c6cccf"/><stop offset="0.3" stop-color="#c8ced1"/><stop offset="0.375" stop-color="#cad0d2"/><stop offset="0.45" stop-color="#cad0d2"/><stop offset="0.5" stop-color="#cad0d2"/><stop offset="0.6" stop-color="#c7ced1"/><stop offset="0.65" stop-color="#c6cdd0"/><stop offset="0.75" stop-color="#c4cbcf"/><stop offset="0.8" stop-color="#c3c9ce"/><stop offset="0.9" stop-color="#c1c7cd"/><stop offset="0.958" stop-color="#c0c6cc"/><stop offset="1" stop-color="#bfc5cb"/></linearGradient>
<linearGradient id="g81"><stop offset="0" stop-color="#b0b9bf"/><stop offset="0.0125" stop-color="#b4bdc2"/><stop offset="0.025" stop-color="#b7c0c5"/><stop offset="0.05" stop-color="#bac3c7"/><stop offset="0.08" stop-color="#bec6ca"/><stop offset="0.1125" stop-color="#bfc7cb"/><stop offset="0.16" stop-color="#c2c9cd"/><stop offset="0.2" stop-color="#c4cace"/><stop offset="0.25" stop-color="#c6ccd0"/><stop offset="0.3" stop-color="#c8cfd1"/><stop offset="0.375" stop-color="#cad0d2"/><stop offset="0.45" stop-color="#cad0d2"/><stop offset="0.5" stop-color="#cad0d2"/><stop offset="0.6" stop-color="#c7ced1"/><stop offset="0.65" stop-color="#c6cdd0"/><stop offset="0.75" stop-color="#c4cbcf"/><stop offset="0.8" stop-color="#c3c9ce"/><stop offset="0.9" stop-color="#c1c7cd"/><stop offset="0.958" stop-color="#c0c6cc"/><stop offset="1" stop-color="#bfc5cb"/></linearGradient>
<linearGradient id="g82"><stop offset="0" stop-color="#b1bac0"/><stop offset="0.0125" stop-color="#b4bdc3"/><stop offset="0.025" stop-color="#b8c1c5"/><stop offset="0.05" stop-color="#bac3c8"/><stop offset="0.08" stop-color="#bec6ca"/><stop offset="0.1125" stop-color="#bfc7cb"/><stop offset="0.16" stop-color="#c2c9cd"/><stop offset="0.2" stop-color="#c4cbce"/><stop offset="0.25" stop-color="#c6cdd0"/><stop offset="0.3" stop-color="#c8cfd1"/><stop offset="0.375" stop-color="#cad0d2"/><stop offset="0.45" stop-color="#cad0d2"/><stop offset="0.5" stop-color="#cad0d2"/><stop offset="0.6" stop-color="#c7ced1"/><stop offset="0.65" stop-color="#c6cdd0"/><stop offset="0.75" stop-color="#c4cbcf"/><stop offset="0.8" stop-color="#c3c9ce"/><stop offset="0.9" stop-color="#c1c7cd"/><stop offset="0.958" stop-color="#c0c6cc"/><stop offset="1" stop-color="#bec5cb"/></linearGradient>
<linearGradient id="g83"><stop offset="0" stop-color="#b1bac0"/><stop offset="0.0125" stop-color="#b4bdc3"/><stop offset="0.025" stop-color="#b8c1c6"/><stop offset="0.05" stop-color="#bbc3c8"/><stop offset="0.08" stop-color="#bec6ca"/><stop offset="0.1125" stop-color="#c0c7cb"/><stop offset="0.16" stop-color="#c2c9cd"/><stop offset="0.2" stop-color="#c4cbce"/><stop offset="0.25" stop-color="#c6cdd0"/><stop offset="0.3" stop-color="#c8cfd1"/><stop offset="0.375" stop-color="#cbd1d3"/><stop offset="0.45" stop-color="#cad0d2"/><stop offset="0.5" stop-color="#cad0d2"/><stop offset="0.6" stop-color="#c7ced1"/><stop offset="0.65" stop-color="#c6cdd0"/><stop offset="0.75" stop-color="#c4cacf"/><stop offset="0.8" stop-color="#c3c9ce"/><stop offset="0.9" stop-color="#c1c7cd"/><stop offset="0.958" stop-color="#bfc5cc"/><stop offset="1" stop-color="#bec4cb"/></linearGradient>
<linearGradient id="g84"><stop offset="0" stop-color="#b1bac0"/><stop offset="0.0125" stop-color="#b4bdc3"/><stop offset="0.025" stop-color="#b8c1c6"/><stop offset="0.05" stop-color="#bbc3c8"/><stop offset="0.08" stop-color="#bec6ca"/><stop offset="0.1125" stop-color="#c0c7cb"/><stop offset="0.16" stop-color="#c2c9cd"/><stop offset="0.2" stop-color="#c4cbce"/><stop offset="0.25" stop-color="#c6cdd0"/><stop offset="0.3" stop-color="#c9cfd1"/><stop offset="0.375" stop-color="#cbd1d3"/><stop offset="0.45" stop-color="#cad0d2"/><stop offset="0.5" stop-color="#cad0d2"/><stop offset="0.6" stop-color="#c7ced1"/><stop offset="0.65" stop-color="#c6cdd0"/><stop offset="0.75" stop-color="#c4cacf"/><stop offset="0.8" stop-color="#c3c9ce"/><stop offset="0.9" stop-color="#c1c7cd"/><stop offset="0.958" stop-color="#bfc5cc"/><stop offset="1" stop-color="#bec4cb"/></linearGradient>
<linearGradient id="g85"><stop offset="0" stop-color="#b1bac0"/><stop offset="0.0125" stop-color="#b4bdc3"/><stop offset="0.025" stop-color="#b8c1c6"/><stop offset="0.05" stop-color="#bbc3c8"/><stop offset="0.08" stop-color="#bec6ca"/><stop offset="0.1125" stop-color="#c0c7cb"/><stop offset="0.16" stop-color="#c2c9cd"/><stop offset="0.2" stop-color="#c4cbce"/><stop offset="0.25" stop-color="#c6cdd0"/><stop offset="0.3" stop-color="#c9cfd1"/><stop offset="0.375" stop-color="#cbd1d3"/><stop offset="0.45" stop-color="#cad0d2"/><stop offset="0.5" stop-color="#cad0d2"/><stop offset="0.6" stop-color="#c7ced1"/><stop offset="0.65" stop-color="#c6cdd0"/><stop offset="0.75" stop-color="#c4cacf"/><stop offset="0.8" stop-color="#c3c9ce"/><stop offset="0.9" stop-color="#c1c7cd"/><stop offset="0.958" stop-color="#bfc5cc"/><stop offset="1" stop-color="#bec4cb"/></linearGradient>
<linearGradient id="g86"><stop offset="0" stop-color="#b1bac0"/><stop offset="0.0125" stop-color="#b4bdc3"/><stop offset="0.025" stop-color="#b8c1c6"/><stop offset="0.05" stop-color="#bbc3c8"/><stop offset="0.08" stop-color="#bec6ca"/><stop offset="0.1125" stop-color="#c0c7cb"/><stop offset="0.16" stop-color="#c2c9cd"/><stop offset="0.2" stop-color="#c4cbce"/><stop offset="0.25" stop-color="#c6cdd0"/><stop offset="0.3" stop-color="#c9cfd1"/><stop offset="0.375" stop-color="#cbd1d3"/><stop offset="0.45" stop-color="#cad0d2"/><stop offset="0.5" stop-color="#cad0d2"/><stop offset="0.6" stop-color="#c7ced1"/><stop offset="0.65" stop-color="#c6cdd0"/><stop offset="0.75" stop-color="#c4cacf"/><stop offset="0.8" stop-color="#c3c9ce"/><stop offset="0.9" stop-color="#c0c6cc"/><stop offset="0.958" stop-color="#bfc5cb"/><stop offset="1" stop-color="#bec4cb"/></linearGradient>
<linearGradient id="g87"><stop offset="0" stop-color="#b1bac0"/><stop offset="0.0125" stop-color="#b4bdc3"/><stop offset="0.025" stop-color="#b8c1c6"/><stop offset="0.05" stop-color="#bbc3c8"/><stop offset="0.08" stop-color="#bec6ca"/><stop offset="0.1125" stop-color="#c0c7cb"/><stop offset="0.16" stop-color="#c2c9cd"/><stop offset="0.2" stop-color="#c4cbce"/><stop offset="0.25" stop-color="#c6cdd0"/><stop offset="0.3" stop-color="#c8cfd1"/><stop offset="0.375" stop-color="#cad0d2"/><stop offset="0.45" stop-color="#cad0d2"/><stop offset="0.5" stop-color="#cad0d2"/><stop offset="0.6" stop-color="#c7ced1"/><stop offset="0.65" stop-color="#c6cdd0"/><stop offset="0.75" stop-color="#c4cace"/><stop offset="0.8" stop-color="#c3c9ce"/><stop offset="0.9" stop-color="#c0c6cc"/><stop offset="0.958" stop-color="#bec4cb"/><stop offset="1" stop-color="#bdc3ca"/></linearGradient>
<linearGradient id="g88"><stop offset="0" stop-color="#b1bac0"/><stop offset="0.0125" stop-color="#b4bdc3"/><stop offset="0.025" stop-color="#b8c1c6"/><stop offset="0.05" stop-color="#bac3c8"/><stop offset="0.08" stop-color="#bec6ca"/><stop offset="0.1125" stop-color="#bfc7cb"/><stop offset="0.16" stop-color="#c2c9cd"/><stop offset="0.2" stop-color="#c4cbce"/><stop offset="0.25" stop-color="#c6ccd0"/><stop offset="0.3" stop-color="#c8ced1"/><stop offset="0.375" stop-color="#cad0d2"/><stop offset="0.45" stop-color="#cad0d2"/><stop offset="0.5" stop-color="#cad0d2"/><stop offset="0.6" stop-color="#c7ced0"/><stop offset="0.65" stop-color="#c6cdd0"/><stop offset="0.75" stop-color="#c4cace"/><stop offset="0.8" stop-color="#c2c8ce"/><stop offset="0.9" stop-color="#c0c6cc"/><stop offset="0.958" stop-color="#bec4cb"/><stop offset="1" stop-color="#bdc3ca"/></linearGradient>
<linearGradient id="g89"><stop offset="0" stop-color="#b0bac0"/><stop offset="0.0125" stop-color="#b4bdc3"/><stop offset="0.025" stop-color="#b8c1c6"/><stop offset="0.05" stop-color="#bac3c8"/><stop offset="0.08" stop-color="#bec6ca"/><stop offset="0.1125" stop-color="#bfc7cb"/><stop offset="0.16" stop-color="#c2c9cd"/><stop offset="0.2" stop-color="#c3cace"/><stop offset="0.25" stop-color="#c6cccf"/><stop offset="0.3" stop-color="#c8ced1"/><stop offset="0.375" stop-color="#cad0d2"/><stop offset="0.45" stop-color="#cad0d2"/><stop offset="0.5" stop-color="#c9cfd1"/><stop offset="0.6" stop-color="#c7cdd0"/><stop offset="0.65" stop-color="#c6ccd0"/><stop offset="0.75" stop-color="#c3cace"/><stop offset="0.8" stop-color="#c2c8ce"/><stop offset="0.9" stop-color="#bfc5cc"/><stop offset="0.958" stop-color="#bec4cb"/><stop offset="1" stop-color="#bcc2ca"/></linearGradient>
<linearGradient id="g90"><stop offset="0" stop-color="#b0b9bf"/><stop offset="0.0125" stop-color="#b4bdc3"/><stop offset="0.025" stop-color="#b8c1c6"/><stop offset="0.05" stop-color="#bac3c7"/><stop offset="0.08" stop-color="#bdc6ca"/><stop offset="0.1125" stop-color="#bfc7cb"/><stop offset="0.16" stop-color="#c1c9cd"/><stop offset="0.2" stop-color="#c3cace"/><stop offset="0.25" stop-color="#c6cccf"/><stop offset="0.3" stop-color="#c7ced0"/><stop offset="0.375" stop-color="#c9d0d2"/><stop offset="0.45" stop-color="#cad0d2"/><stop offset="0.5" stop-color="#c9cfd1"/><stop offset="0.6" stop-color="#c7cdd0"/><stop offset="0.65" stop-color="#c6ccd0"/><stop offset="0.75" stop-color="#c3c9ce"/><stop offset="0.8" stop-color="#c2c8cd"/><stop offset="0.9" stop-color="#bfc5cb"/><stop offset="0.958" stop-color="#bdc3ca"/><stop offset="1" stop-color="#bcc2c9"/></linearGradient>
<linearGradient id="g91"><stop offset="0" stop-color="#b0b9bf"/><stop offset="0.0125" stop-color="#b4bdc2"/><stop offset="0.025" stop-color="#b8c1c6"/><stop offset="0.05" stop-color="#bac3c7"/><stop offset="0.08" stop-color="#bdc6c9"/><stop offset="0.1125" stop-color="#bfc7cb"/><stop offset="0.16" stop-color="#c1c9cc"/><stop offset="0.2" stop-color="#c3cace"/><stop offset="0.25" stop-color="#c5cccf"/><stop offset="0.3" stop-color="#c7ced0"/><stop offset="0.375" stop-color="#c9cfd1"/><stop offset="0.45" stop-color="#c9cfd1"/><stop offset="0.5" stop-color="#c9cfd1"/><stop offset="0.6" stop-color="#c7cdd0"/><stop offset="0.65" stop-color="#c6ccd0"/><stop offset="0.75" stop-color="#c3c9ce"/><stop offset="0.8" stop-color="#c2c8cd"/><stop offset="0.9" stop-color="#bfc5cb"/><stop offset="0.958" stop-color="#bdc3ca"/><stop offset="1" stop-color="#bbc2c9"/></linearGradient>
<linearGradient id="g92"><stop offset="0" stop-color="#b0b9bf"/><stop offset="0.0125" stop-color="#b4bdc2"/><stop offset="0.025" stop-color="#b8c1c6"/><stop offset="0.05" stop-color="#bac3c7"/><stop offset="0.08" stop-color="#bdc6c9"/><stop offset="0.1125" stop-color="#bfc7cb"/><stop offset="0.16" stop-color="#c1c9cc"/><stop offset="0.2" stop-color="#c3cace"/><stop offset="0.25" stop-color="#c5cccf"/><stop offset="0.3" stop-color="#c7cdd0"/><stop offset="0.375" stop-color="#c9cfd1"/><stop offset="0.45" stop-color="#c9cfd1"/><stop offset="0.5" stop-color="#c9cfd1"/><stop offset="0.6" stop-color="#c7cdd0"/><stop offset="0.65" stop-color="#c6ccd0"/><stop offset="0.75" stop-color="#c3c9ce"/><stop offset="0.8" stop-color="#c2c8cd"/><stop offset="0.9" stop-color="#bec4cb"/><stop offset="0.958" stop-color="#bcc3ca"/><stop offset="1" stop-color="#bbc1c9"/></linearGradient>
<linearGradient id="g93"><stop offset="0" stop-color="#b0b9bf"/><stop offset="0.0125" stop-color="#b4bdc2"/><stop offset="0.025" stop-color="#b7c0c5"/><stop offset="0.05" stop-color="#bac3c7"/><stop offset="0.08" stop-color="#bdc6c9"/><stop offset="0.1125" stop-color="#bfc7cb"/><stop offset="0.16" stop-color="#c1c9cc"/><stop offset="0.2" stop-color="#c3cacd"/><stop offset="0.25" stop-color="#c5cccf"/><stop offset="0.3" stop-color="#c7cdd0"/><stop offset="0.375" stop-color="#c9cfd1"/><stop offset="0.45" stop-color="#c9cfd1"/><stop offset="0.5" stop-color="#c9cfd1"/><stop offset="0.6" stop-color="#c6cdd0"/><stop offset="0.65" stop-color="#c5cccf"/><stop offset="0.75" stop-color="#c3c9ce"/><stop offset="0.8" stop-color="#c1c7cd"/><stop offset="0.9" stop-color="#bec4cb"/><stop offset="0.958" stop-color="#bcc2c9"/><stop offset="1" stop-color="#bac1c8"/></linearGradient>
<linearGradient id="g94"><stop offset="0" stop-color="#b0b9bf"/><stop offset="0.0125" stop-color="#b4bdc2"/><stop offset="0.025" stop-color="#b7c0c5"/><stop offset="0.05" stop-color="#bac3c7"/><stop offset="0.08" stop-color="#bdc5c9"/><stop offset="0.1125" stop-color="#bfc7cb"/><stop offset="0.16" stop-color="#c1c9cc"/><stop offset="0.2" stop-color="#c3cacd"/><stop offset="0.25" stop-color="#c5cccf"/><stop offset="0.3" stop-color="#c6cdd0"/><stop offset="0.375" stop-color="#c8ced1"/><stop offset="0.45" stop-color="#c9cfd1"/><stop offset="0.5" stop-color="#c8ced1"/><stop offset="0.6" stop-color="#c6cdd0"/><stop offset="0.65" stop-color="#c5cccf"/><stop offset="0.75" stop-color="#c3c9ce"/><stop offset="0.8" stop-color="#c1c7cd"/><stop offset="0.9" stop-color="#bdc4ca"/><stop offset="0.958" stop-color="#bbc2c9"/><stop offset="1" stop-color="#bac0c8"/></linearGradient>
<linearGradient id="g95"><stop offset="0" stop-color="#b0b9bf"/><stop offset="0.0125" stop-color="#b3bcc2"/><stop offset="0.025" stop-color="#b7c0c5"/><stop offset="0.05" stop-color="#bac3c7"/><stop offset="0.08" stop-color="#bdc5c9"/><stop offset="0.1125" stop-color="#bfc7cb"/><stop offset="0.16" stop-color="#c1c9cc"/><stop offset="0.2" stop-color="#c3cacd"/><stop offset="0.25" stop-color="#c5cccf"/><stop offset="0.3" stop-color="#c6cdcf"/><stop offset="0.375" stop-color="#c8ced0"/><stop offset="0.45" stop-color="#c9cfd1"/><stop offset="0.5" stop-color="#c8ced0"/><stop offset="0.6" stop-color="#c6ccd0"/><stop offset="0.65" stop-color="#c5cccf"/><stop offset="0.75" stop-color="#c2c9ce"/><stop offset="0.8" stop-color="#c1c7cd"/><stop offset="0.9" stop-color="#bdc3ca"/><stop offset="0.958" stop-color="#bbc1c9"/><stop offset="1" stop-color="#b9c0c8"/></linearGradient>
<linearGradient id="g96"><stop offset="0" stop-color="#b0b8be"/><stop offset="0.0125" stop-color="#b3bcc2"/><stop offset="0.025" stop-color="#b7c0c5"/><stop offset="0.05" stop-color="#bac3c7"/><stop offset="0.08" stop-color="#bdc5c9"/><stop offset="0.1125" stop-color="#bfc7cb"/><stop offset="0.16" stop-color="#c1c9cc"/><stop offset="0.2" stop-color="#c2cacd"/><stop offset="0.25" stop-color="#c5cbce"/><stop offset="0.3" stop-color="#c6cdcf"/><stop offset="0.375" stop-color="#c8ced0"/><stop offset="0.45" stop-color="#c9cfd1"/><stop offset="0.5" stop-color="#c8ced0"/><stop offset="0.6" stop-color="#c6ccd0"/><stop offset="0.65" stop-color="#c5cccf"/><stop offset="0.75" stop-color="#c2c8cd"/><stop offset="0.8" stop-color="#c1c7cc"/><stop offset="0.9" stop-color="#bdc3ca"/><stop offset="0.958" stop-color="#bac1c8"/><stop offset="1" stop-color="#b9c0c7"/></linearGradient>
<linearGradient id="g97"><stop offset="0" stop-color="#afb8be"/><stop offset="0.0125" stop-color="#b3bcc2"/><stop offset="0.025" stop-color="#b7c0c5"/><stop offset="0.05" stop-color="#bac3c7"/><stop offset="0.08" stop-color="#bcc5c9"/><stop offset="0.1125" stop-color="#bfc7ca"/><stop offset="0.16" stop-color="#c1c9cc"/><stop offset="0.2" stop-color="#c2cacd"/><stop offset="0.25" stop-color="#c4cbce"/><stop offset="0.3" stop-color="#c6cccf"/><stop offset="0.375" stop-color="#c7ced0"/><stop offset="0.45" stop-color="#c8ced0"/><stop offset="0.5" stop-color="#c8ced0"/><stop offset="0.6" stop-color="#c6ccd0"/><stop offset="0.65" stop-color="#c5cbcf"/><stop offset="0.75" stop-color="#c2c8cd"/><stop offset="0.8" stop-color="#c1c7cc"/><stop offset="0.9" stop-color="#bcc3ca"/><stop offset="0.958" stop-color="#bac1c8"/><stop offset="1" stop-color="#b8bfc7"/></linearGradient>
<linearGradient id="g98"><stop offset="0" stop-color="#afb8be"/><stop offset="0.0125" stop-color="#b3bcc2"/><stop offset="0.025" stop-color="#b7c0c5"/><stop offset="0.05" stop-color="#b9c2c7"/><stop offset="0.08" stop-color="#bcc5c9"/><stop offset="0.1125" stop-color="#bfc7ca"/><stop offset="0.16" stop-color="#c1c9cc"/><stop offset="0.2" stop-color="#c2cacd"/><stop offset="0.25" stop-color="#c4cbce"/><stop offset="0.3" stop-color="#c5cccf"/><stop offset="0.375" stop-color="#c7cdd0"/><stop offset="0.45" stop-color="#c8ced0"/><stop offset="0.5" stop-color="#c8ced0"/><stop offset="0.6" stop-color="#c6cccf"/><stop offset="0.65" stop-color="#c5cbcf"/><stop offset="0.75" stop-color="#c2c8cd"/><stop offset="0.8" stop-color="#c0c6cc"/><stop offset="0.9" stop-color="#bcc2c9"/><stop offset="0.958" stop-color="#bac0c8"/><stop offset="1" stop-color="#b8bfc7"/></linearGradient>
<linearGradient id="g99"><stop offset="0" stop-color="#afb8be"/><stop offset="0.0125" stop-color="#b3bcc2"/><stop offset="0.025" stop-color="#b7c0c5"/><stop offset="0.05" stop-color="#b9c2c7"/><stop offset="0.08" stop-color="#bcc5c9"/><stop offset="0.1125" stop-color="#bfc7ca"/><stop offset="0.16" stop-color="#c0c9cc"/><stop offset="0.2" stop-color="#c2cacd"/><stop offset="0.25" stop-color="#c4cbce"/><stop offset="0.3" stop-color="#c5cccf"/><stop offset="0.375" stop-color="#c7cdcf"/><stop offset="0.45" stop-color="#c8ced0"/><stop offset="0.5" stop-color="#c7cdd0"/><stop offset="0.6" stop-color="#c6cccf"/><stop offset="0.65" stop-color="#c5cbcf"/><stop offset="0.75" stop-color="#c2c8cd"/><stop offset="0.8" stop-color="#c0c6cc"/><stop offset="0.9" stop-color="#bcc2c9"/><stop offset="0.958" stop-color="#b9c0c7"/><stop offset="1" stop-color="#b7bec6"/></linearGradient>
</defs>
<g shape-rendering="crispEdges">
<rect x="0" y="0" width="2000" height="11" fill="url(#g0)"/>
<rect x="0" y="10" width="2000" height="11" fill="url(#g1)"/>
<rect x="0" y="20" width="2000" height="11" fill="url(#g2)"/>
<rect x="0" y="30" width="2000" height="11" fill="url(#g3)"/>
<rect x="0" y="40" width="2000" height="11" fill="url(#g4)"/>
<rect x="0" y="50" width="2000" height="11" fill="url(#g5)"/>
<rect x="0" y="60" width="2000" height="11" fill="url(#g6)"/>
<rect x="0" y="70" width="2000" height="11" fill="url(#g7)"/>
<rect x="0" y="80" width="2000" height="11" fill="url(#g8)"/>
<rect x="0" y="90" width="2000" height="11" fill="url(#g9)"/>
<rect x="0" y="100" width="2000" height="11" fill="url(#g10)"/>
<rect x="0" y="110" width="2000" height="11" fill="url(#g11)"/>
<rect x="0" y="120" width="2000" height="11" fill="url(#g12)"/>
<rect x="0" y="130" width="2000" height="11" fill="url(#g13)"/>
<rect x="0" y="140" width="2000" height="11" fill="url(#g14)"/>
<rect x="0" y="150" width="2000" height="11" fill="url(#g15)"/>
<rect x="0" y="160" width="2000" height="11" fill="url(#g16)"/>
<rect x="0" y="170" width="2000" height="11" fill="url(#g17)"/>
<rect x="0" y="180" width="2000" height="11" fill="url(#g18)"/>
<rect x="0" y="190" width="2000" height="11" fill="url(#g19)"/>
<rect x="0" y="200" width="2000" height="11" fill="url(#g20)"/>
<rect x="0" y="210" width="2000" height="11" fill="url(#g21)"/>
<rect x="0" y="220" width="2000" height="11" fill="url(#g22)"/>
<rect x="0" y="230" width="2000" height="11" fill="url(#g23)"/>
<rect x="0" y="240" width="2000" height="11" fill="url(#g24)"/>
<rect x="0" y="250" width="2000" height="11" fill="url(#g25)"/>
<rect x="0" y="260" width="2000" height="11" fill="url(#g26)"/>
<rect x="0" y="270" width="2000" height="11" fill="url(#g27)"/>
<rect x="0" y="280" width="2000" height="11" fill="url(#g28)"/>
<rect x="0" y="290" width="2000" height="11" fill="url(#g29)"/>
<rect x="0" y="300" width="2000" height="11" fill="url(#g30)"/>
<rect x="0" y="310" width="2000" height="11" fill="url(#g31)"/>
<rect x="0" y="320" width="2000" height="11" fill="url(#g32)"/>
<rect x="0" y="330" width="2000" height="11" fill="url(#g33)"/>
<rect x="0" y="340" width="2000" height="11" fill="url(#g34)"/>
<rect x="0" y="350" width="2000" height="11" fill="url(#g35)"/>
<rect x="0" y="360" width="2000" height="11" fill="url(#g36)"/>
<rect x="0" y="370" width="2000" height="11" fill="url(#g37)"/>
<rect x="0" y="380" width="2000" height="11" fill="url(#g38)"/>
<rect x="0" y="390" width="2000" height="11" fill="url(#g39)"/>
<rect x="0" y="400" width="2000" height="11" fill="url(#g40)"/>
<rect x="0" y="410" width="2000" height="11" fill="url(#g41)"/>
<rect x="0" y="420" width="2000" height="11" fill="url(#g42)"/>
<rect x="0" y="430" width="2000" height="11" fill="url(#g43)"/>
<rect x="0" y="440" width="2000" height="11" fill="url(#g44)"/>
<rect x="0" y="450" width="2000" height="11" fill="url(#g45)"/>
<rect x="0" y="460" width="2000" height="11" fill="url(#g46)"/>
<rect x="0" y="470" width="2000" height="11" fill="url(#g47)"/>
<rect x="0" y="480" width="2000" height="11" fill="url(#g48)"/>
<rect x="0" y="490" width="2000" height="11" fill="url(#g49)"/>
<rect x="0" y="500" width="2000" height="11" fill="url(#g50)"/>
<rect x="0" y="510" width="2000" height="11" fill="url(#g51)"/>
<rect x="0" y="520" width="2000" height="11" fill="url(#g52)"/>
<rect x="0" y="530" width="2000" height="11" fill="url(#g53)"/>
<rect x="0" y="540" width="2000" height="11" fill="url(#g54)"/>
<rect x="0" y="550" width="2000" height="11" fill="url(#g55)"/>
<rect x="0" y="560" width="2000" height="11" fill="url(#g56)"/>
<rect x="0" y="570" width="2000" height="11" fill="url(#g57)"/>
<rect x="0" y="580" width="2000" height="11" fill="url(#g58)"/>
<rect x="0" y="590" width="2000" height="11" fill="url(#g59)"/>
<rect x="0" y="600" width="2000" height="11" fill="url(#g60)"/>
<rect x="0" y="610" width="2000" height="11" fill="url(#g61)"/>
<rect x="0" y="620" width="2000" height="11" fill="url(#g62)"/>
<rect x="0" y="630" width="2000" height="11" fill="url(#g63)"/>
<rect x="0" y="640" width="2000" height="11" fill="url(#g64)"/>
<rect x="0" y="650" width="2000" height="11" fill="url(#g65)"/>
<rect x="0" y="660" width="2000" height="11" fill="url(#g66)"/>
<rect x="0" y="670" width="2000" height="11" fill="url(#g67)"/>
<rect x="0" y="680" width="2000" height="11" fill="url(#g68)"/>
<rect x="0" y="690" width="2000" height="11" fill="url(#g69)"/>
<rect x="0" y="700" width="2000" height="11" fill="url(#g70)"/>
<rect x="0" y="710" width="2000" height="11" fill="url(#g71)"/>
<rect x="0" y="720" width="2000" height="11" fill="url(#g72)"/>
<rect x="0" y="730" width="2000" height="11" fill="url(#g73)"/>
<rect x="0" y="740" width="2000" height="11" fill="url(#g74)"/>
<rect x="0" y="750" width="2000" height="11" fill="url(#g75)"/>
<rect x="0" y="760" width="2000" height="11" fill="url(#g76)"/>
<rect x="0" y="770" width="2000" height="11" fill="url(#g77)"/>
<rect x="0" y="780" width="2000" height="11" fill="url(#g78)"/>
<rect x="0" y="790" width="2000" height="11" fill="url(#g79)"/>
<rect x="0" y="800" width="2000" height="11" fill="url(#g80)"/>
<rect x="0" y="810" width="2000" height="11" fill="url(#g81)"/>
<rect x="0" y="820" width="2000" height="11" fill="url(#g82)"/>
<rect x="0" y="830" width="2000" height="11" fill="url(#g83)"/>
<rect x="0" y="840" width="2000" height="11" fill="url(#g84)"/>
<rect x="0" y="850" width="2000" height="11" fill="url(#g85)"/>
<rect x="0" y="860" width="2000" height="11" fill="url(#g86)"/>
<rect x="0" y="870" width="2000" height="11" fill="url(#g87)"/>
<rect x="0" y="880" width="2000" height="11" fill="url(#g88)"/>
<rect x="0" y="890" width="2000" height="11" fill="url(#g89)"/>
<rect x="0" y="900" width="2000" height="11" fill="url(#g90)"/>
<rect x="0" y="910" width="2000" height="11" fill="url(#g91)"/>
<rect x="0" y="920" width="2000" height="11" fill="url(#g92)"/>
<rect x="0" y="930" width="2000" height="11" fill="url(#g93)"/>
<rect x="0" y="940" width="2000" height="11" fill="url(#g94)"/>
<rect x="0" y="950" width="2000" height="11" fill="url(#g95)"/>
<rect x="0" y="960" width="2000" height="11" fill="url(#g96)"/>
<rect x="0" y="970" width="2000" height="11" fill="url(#g97)"/>
<rect x="0" y="980" width="2000" height="11" fill="url(#g98)"/>
<rect x="0" y="990" width="2000" height="11" fill="url(#g99)"/>
</g>
<!-- plot -->
<rect x="224.8" y="240" width="1691.5" height="288" fill="#e3e3e3"/>
<rect x="224.8" y="528" width="1691.5" height="288" fill="#b9c0c3"/>
<rect x="224.8" y="239.5" width="1691.5" height="1.8" fill="#fff"/>
<rect x="229" y="286.9" width="1687.3" height="1.7" fill="#fff"/>
<rect x="229" y="334.9" width="1687.3" height="1.7" fill="#fff"/>
<rect x="229" y="382.9" width="1687.3" height="1.7" fill="#fff"/>
<rect x="229" y="430.9" width="1687.3" height="1.7" fill="#fff"/>
<rect x="229" y="478.9" width="1687.3" height="1.7" fill="#fff"/>
<rect x="229" y="527" width="1687.3" height="1.85" fill="#fff"/>
<rect x="229" y="574.9" width="1687.3" height="1.7" fill="#fff"/>
<rect x="229" y="622.9" width="1687.3" height="1.7" fill="#fff"/>
<rect x="229" y="670.9" width="1687.3" height="1.7" fill="#fff"/>
<rect x="229" y="718.9" width="1687.3" height="1.7" fill="#fff"/>
<rect x="229" y="766.9" width="1687.3" height="1.7" fill="#fff"/>

<rect x="508.00" y="240.8" width="1.0" height="572.5" fill="#454a4f"/>
<rect x="789.10" y="240.8" width="1.0" height="572.5" fill="#454a4f"/>
<rect x="1070.30" y="240.8" width="1.0" height="572.5" fill="#454a4f"/>
<rect x="1351.70" y="240.8" width="1.0" height="572.5" fill="#454a4f"/>
<rect x="1633.00" y="240.8" width="1.0" height="572.5" fill="#454a4f"/>

<rect x="224.8" y="241.3" width="4.4" height="576.2" fill="#e4e4e4"/>
<rect x="224.8" y="813" width="1691.5" height="4.5" fill="#e4e4e4"/>
<polyline points="233.3,493.9 258.4,493.9 302,782 327,607 351,527.5 371.5,500.5 418.6,427 442.5,470 469,546 493,529 516,427 536,348 558,336 586,352 608,385 633,383 654,404 677,362 700,346 725,414 753,435 781.8,405 805.6,338 829,333 851.8,475 875.8,465 899,432 923,414 946,470.5 968.8,436 992.8,468.5 1016.5,515 1039,512.8 1062,503 1087,402 1111,408 1134,466 1157.8,483 1181,489.8 1229,567.8 1252.3,549.5 1275.5,548 1298,622.8 1322,645.3 1346,599.5 1370,535.5 1393.5,539.5 1418,558.3 1441.3,565.8 1464.5,559.2 1511,587.3 1535,569.3 1559.8,584.3 1581.5,623.3 1605.5,642 1625.2,680 1657,556.5 1680,508 1701,514 1727.3,557.3 1750.5,516 1774.5,540 1797.8,529.8 1821,546 1845,507 1869,560.5" fill="none" stroke="#006397" stroke-width="8.1" stroke-linejoin="round" stroke-linecap="round"/>
<polyline points="232.8,521 256,524.5 302.2,798 337.5,607 370,489 396,500 419,486 442,490 469,531 492.5,489.5 516,466.5 559,396 587,400 609,425 631,413 675,425 700,411 725,446 748,452 781.8,443 805.6,407 829,425 852,549.5 922.8,491.8 946,503.5 968.8,505.2 992.5,516.5 1016.5,537.5 1037.5,510.5 1062.5,486.8 1087,479 1110.5,465.5 1133.8,502.8 1157.8,498.8 1181,528 1205,533.3 1229,560.4 1252.3,565.5 1275.5,588.3 1322,577 1346,566.5 1370,540.5 1394,542.4 1418,522.3 1441.3,542.5 1464.5,528.3 1487,522.3 1511,565 1535,587.3 1558.3,590.3 1582.3,612 1606.3,597.8 1625,572.3 1656.3,553.3 1680,520 1704,504 1727.5,587.8 1751,532 1774.5,546 1798,536.5 1822,555 1845,524 1869,536" fill="none" stroke="#20b9e1" stroke-width="8.0" stroke-linejoin="round" stroke-linecap="round"/>
<!-- text -->
<g opacity="0.999">
<text x="83.37" y="113.5" font-size="43.2" fill="#056598" fill-opacity="0.92" textLength="238.91" lengthAdjust="spacingAndGlyphs">Produktions-</text>
<text x="331.68" y="113.5" font-size="43.2" fill="#056598" fill-opacity="0.92" textLength="71.71" lengthAdjust="spacingAndGlyphs">und</text>
<text x="414.67" y="113.5" font-size="43.2" fill="#056598" fill-opacity="0.92" textLength="358.32" lengthAdjust="spacingAndGlyphs">Exporterwartungen</text>
<text x="784.88" y="113.5" font-size="43.2" fill="#056598" fill-opacity="0.92" textLength="34.41" lengthAdjust="spacingAndGlyphs">in</text>
<text x="830.61" y="113.5" font-size="43.2" fill="#056598" fill-opacity="0.92" textLength="232.74" lengthAdjust="spacingAndGlyphs">Deutschland</text>
<text x="83.81" y="163.5" font-size="43.2" fill="#056598" fill-opacity="0.92" textLength="43.99" lengthAdjust="spacingAndGlyphs">im</text>
<text x="141.25" y="163.5" font-size="43.2" fill="#056598" fill-opacity="0.92" textLength="151.11" lengthAdjust="spacingAndGlyphs">Oktober</text>
<text x="83.13" y="916.6" font-size="23.4" fill="#056598" fill-opacity="0.92" textLength="68.78" lengthAdjust="spacingAndGlyphs">Quelle:</text>
<text x="158.29" y="916.6" font-size="23.4" fill="#056598" fill-opacity="0.92" textLength="178.77" lengthAdjust="spacingAndGlyphs">ifo-Konjunkturtest</text>
<text x="85.25" y="945.3" font-size="23.4" fill="#056598" fill-opacity="0.92" textLength="9.27" lengthAdjust="spacingAndGlyphs">*</text>
<text x="101.43" y="945.3" font-size="23.4" fill="#056598" fill-opacity="0.92" textLength="55.61" lengthAdjust="spacingAndGlyphs">Saldo</text>
<text x="166.12" y="945.3" font-size="23.4" fill="#056598" fill-opacity="0.92" textLength="28.99" lengthAdjust="spacingAndGlyphs">der</text>
<text x="200.70" y="945.3" font-size="23.4" fill="#056598" fill-opacity="0.92" textLength="254.29" lengthAdjust="spacingAndGlyphs">Unternehmensmeldungen</text>
<text x="460.66" y="945.3" font-size="23.4" fill="#056598" fill-opacity="0.92" textLength="43.81" lengthAdjust="spacingAndGlyphs">über</text>
<text x="511.05" y="945.3" font-size="23.4" fill="#056598" fill-opacity="0.92" textLength="95.56" lengthAdjust="spacingAndGlyphs">erwartete</text>
<text x="612.95" y="945.3" font-size="23.4" fill="#056598" fill-opacity="0.92" textLength="89.71" lengthAdjust="spacingAndGlyphs">Zunahme</text>
<text x="709.67" y="945.3" font-size="23.4" fill="#056598" fill-opacity="0.92" textLength="25.51" lengthAdjust="spacingAndGlyphs">(+)</text>
<text x="740.46" y="945.3" font-size="23.4" fill="#056598" fill-opacity="0.92" textLength="37.82" lengthAdjust="spacingAndGlyphs">und</text>
<text x="784.67" y="945.3" font-size="23.4" fill="#056598" fill-opacity="0.92" textLength="91.73" lengthAdjust="spacingAndGlyphs">Abnahme</text>
<text x="883.22" y="945.3" font-size="23.4" fill="#056598" fill-opacity="0.92" textLength="20.30" lengthAdjust="spacingAndGlyphs">(-)</text>
<text x="909.37" y="945.3" font-size="23.4" fill="#056598" fill-opacity="0.92" textLength="18.27" lengthAdjust="spacingAndGlyphs">in</text>
<text x="933.71" y="945.3" font-size="23.4" fill="#056598" fill-opacity="0.92" textLength="37.35" lengthAdjust="spacingAndGlyphs">den</text>
<text x="976.16" y="945.3" font-size="23.4" fill="#056598" fill-opacity="0.92" textLength="90.19" lengthAdjust="spacingAndGlyphs">nächsten</text>
<text x="1072.71" y="945.3" font-size="23.4" fill="#056598" fill-opacity="0.92" textLength="37.21" lengthAdjust="spacingAndGlyphs">drei</text>
<text x="1115.07" y="945.3" font-size="23.4" fill="#056598" fill-opacity="0.92" textLength="88.81" lengthAdjust="spacingAndGlyphs">Monaten</text>
<text x="1411.70" y="212.5" font-size="28" fill="#03608f" stroke="#03608f" stroke-width="0.7" textLength="143.52" lengthAdjust="spacingAndGlyphs">Produktion*</text>
<text x="1562.71" y="212.6" font-size="35.6" fill="#e4032e" font-weight="bold" textLength="62.91" lengthAdjust="spacingAndGlyphs">-6,7</text>
<text x="1722.83" y="212.5" font-size="28" fill="#20b9e1" stroke="#20b9e1" stroke-width="0.5" textLength="91.20" lengthAdjust="spacingAndGlyphs">Export*</text>
<text x="1821.91" y="212.6" font-size="35.6" fill="#e4032e" font-weight="bold" textLength="56.66" lengthAdjust="spacingAndGlyphs">-1,6</text>
<path d="M153.90 232.70a5.5 6.85 0 1 0 11.00 0a5.5 6.85 0 1 0 -11.00 0zM156.70 232.70a2.7 4.6 0 1 0 5.40 0a2.7 4.6 0 1 0 -5.40 0zM165.36 247.50a5.5 6.85 0 1 0 11.00 0a5.5 6.85 0 1 0 -11.00 0zM168.16 247.50a2.7 4.6 0 1 0 5.40 0a2.7 4.6 0 1 0 -5.40 0zM171.40 226.00L174.10 226.00L158.80 253.70L155.90 253.70z" fill="#fff" fill-rule="evenodd"/><text transform="translate(137.10,253.90) scale(0.875,1)" text-anchor="middle" font-size="40.6" fill="#fff">0</text><text transform="translate(114.60,253.90) scale(0.875,1)" text-anchor="middle" font-size="40.6" fill="#fff">6</text><text transform="translate(92.20,253.90) scale(0.87,1)" text-anchor="middle" font-size="40.6" fill="#fff">+</text>
<path d="M153.90 330.10a5.5 6.85 0 1 0 11.00 0a5.5 6.85 0 1 0 -11.00 0zM156.70 330.10a2.7 4.6 0 1 0 5.40 0a2.7 4.6 0 1 0 -5.40 0zM165.36 344.90a5.5 6.85 0 1 0 11.00 0a5.5 6.85 0 1 0 -11.00 0zM168.16 344.90a2.7 4.6 0 1 0 5.40 0a2.7 4.6 0 1 0 -5.40 0zM171.40 323.40L174.10 323.40L158.80 351.10L155.90 351.10z" fill="#fff" fill-rule="evenodd"/><text transform="translate(137.10,351.30) scale(0.875,1)" text-anchor="middle" font-size="40.6" fill="#fff">0</text><text transform="translate(114.60,351.30) scale(0.875,1)" text-anchor="middle" font-size="40.6" fill="#fff">4</text><text transform="translate(92.20,351.30) scale(0.87,1)" text-anchor="middle" font-size="40.6" fill="#fff">+</text>
<path d="M153.90 425.20a5.5 6.85 0 1 0 11.00 0a5.5 6.85 0 1 0 -11.00 0zM156.70 425.20a2.7 4.6 0 1 0 5.40 0a2.7 4.6 0 1 0 -5.40 0zM165.36 440.00a5.5 6.85 0 1 0 11.00 0a5.5 6.85 0 1 0 -11.00 0zM168.16 440.00a2.7 4.6 0 1 0 5.40 0a2.7 4.6 0 1 0 -5.40 0zM171.40 418.50L174.10 418.50L158.80 446.20L155.90 446.20z" fill="#fff" fill-rule="evenodd"/><text transform="translate(137.10,446.40) scale(0.875,1)" text-anchor="middle" font-size="40.6" fill="#fff">0</text><text transform="translate(114.60,446.40) scale(0.875,1)" text-anchor="middle" font-size="40.6" fill="#fff">2</text><text transform="translate(92.20,446.40) scale(0.87,1)" text-anchor="middle" font-size="40.6" fill="#fff">+</text>
<path d="M153.90 519.70a5.5 6.85 0 1 0 11.00 0a5.5 6.85 0 1 0 -11.00 0zM156.70 519.70a2.7 4.6 0 1 0 5.40 0a2.7 4.6 0 1 0 -5.40 0zM165.36 534.50a5.5 6.85 0 1 0 11.00 0a5.5 6.85 0 1 0 -11.00 0zM168.16 534.50a2.7 4.6 0 1 0 5.40 0a2.7 4.6 0 1 0 -5.40 0zM171.40 513.00L174.10 513.00L158.80 540.70L155.90 540.70z" fill="#000" fill-rule="evenodd"/><text transform="translate(137.10,540.90) scale(0.875,1)" text-anchor="middle" font-size="40.6" fill="#000">0</text>
<path d="M153.90 617.00a5.5 6.85 0 1 0 11.00 0a5.5 6.85 0 1 0 -11.00 0zM156.70 617.00a2.7 4.6 0 1 0 5.40 0a2.7 4.6 0 1 0 -5.40 0zM165.36 631.80a5.5 6.85 0 1 0 11.00 0a5.5 6.85 0 1 0 -11.00 0zM168.16 631.80a2.7 4.6 0 1 0 5.40 0a2.7 4.6 0 1 0 -5.40 0zM171.40 610.30L174.10 610.30L158.80 638.00L155.90 638.00z" fill="#586065" fill-rule="evenodd"/><text transform="translate(137.10,638.20) scale(0.875,1)" text-anchor="middle" font-size="40.6" fill="#586065">0</text><text transform="translate(114.60,638.20) scale(0.875,1)" text-anchor="middle" font-size="40.6" fill="#586065">2</text><text transform="translate(93.60,638.20) scale(1.1,1)" text-anchor="middle" font-size="40.6" fill="#586065">-</text>
<path d="M153.90 713.10a5.5 6.85 0 1 0 11.00 0a5.5 6.85 0 1 0 -11.00 0zM156.70 713.10a2.7 4.6 0 1 0 5.40 0a2.7 4.6 0 1 0 -5.40 0zM165.36 727.90a5.5 6.85 0 1 0 11.00 0a5.5 6.85 0 1 0 -11.00 0zM168.16 727.90a2.7 4.6 0 1 0 5.40 0a2.7 4.6 0 1 0 -5.40 0zM171.40 706.40L174.10 706.40L158.80 734.10L155.90 734.10z" fill="#586065" fill-rule="evenodd"/><text transform="translate(137.10,734.30) scale(0.875,1)" text-anchor="middle" font-size="40.6" fill="#586065">0</text><text transform="translate(114.60,734.30) scale(0.875,1)" text-anchor="middle" font-size="40.6" fill="#586065">4</text><text transform="translate(93.60,734.30) scale(1.1,1)" text-anchor="middle" font-size="40.6" fill="#586065">-</text>
<path d="M153.90 809.10a5.5 6.85 0 1 0 11.00 0a5.5 6.85 0 1 0 -11.00 0zM156.70 809.10a2.7 4.6 0 1 0 5.40 0a2.7 4.6 0 1 0 -5.40 0zM165.36 823.90a5.5 6.85 0 1 0 11.00 0a5.5 6.85 0 1 0 -11.00 0zM168.16 823.90a2.7 4.6 0 1 0 5.40 0a2.7 4.6 0 1 0 -5.40 0zM171.40 802.40L174.10 802.40L158.80 830.10L155.90 830.10z" fill="#586065" fill-rule="evenodd"/><text transform="translate(137.10,830.30) scale(0.875,1)" text-anchor="middle" font-size="40.6" fill="#586065">0</text><text transform="translate(114.60,830.30) scale(0.875,1)" text-anchor="middle" font-size="40.6" fill="#586065">6</text><text transform="translate(93.60,830.30) scale(1.1,1)" text-anchor="middle" font-size="40.6" fill="#586065">-</text>

<text transform="translate(334.70,877.90) scale(0.9,1)" text-anchor="middle" font-size="40.1" fill="#056395" fill-opacity="0.92">2</text><text transform="translate(356.80,877.90) scale(0.9,1)" text-anchor="middle" font-size="40.1" fill="#056395" fill-opacity="0.92">0</text><text transform="translate(378.90,877.90) scale(0.9,1)" text-anchor="middle" font-size="40.1" fill="#056395" fill-opacity="0.92">2</text><text transform="translate(401.00,877.90) scale(0.9,1)" text-anchor="middle" font-size="40.1" fill="#056395" fill-opacity="0.92">0</text>
<text transform="translate(616.35,877.90) scale(0.9,1)" text-anchor="middle" font-size="40.1" fill="#056395" fill-opacity="0.92">2</text><text transform="translate(638.45,877.90) scale(0.9,1)" text-anchor="middle" font-size="40.1" fill="#056395" fill-opacity="0.92">0</text><text transform="translate(660.55,877.90) scale(0.9,1)" text-anchor="middle" font-size="40.1" fill="#056395" fill-opacity="0.92">2</text><text transform="translate(682.65,877.90) scale(0.9,1)" text-anchor="middle" font-size="40.1" fill="#056395" fill-opacity="0.92">1</text>
<text transform="translate(898.00,877.90) scale(0.9,1)" text-anchor="middle" font-size="40.1" fill="#056395" fill-opacity="0.92">2</text><text transform="translate(920.10,877.90) scale(0.9,1)" text-anchor="middle" font-size="40.1" fill="#056395" fill-opacity="0.92">0</text><text transform="translate(942.20,877.90) scale(0.9,1)" text-anchor="middle" font-size="40.1" fill="#056395" fill-opacity="0.92">2</text><text transform="translate(964.30,877.90) scale(0.9,1)" text-anchor="middle" font-size="40.1" fill="#056395" fill-opacity="0.92">2</text>
<text transform="translate(1179.65,877.90) scale(0.9,1)" text-anchor="middle" font-size="40.1" fill="#056395" fill-opacity="0.92">2</text><text transform="translate(1201.75,877.90) scale(0.9,1)" text-anchor="middle" font-size="40.1" fill="#056395" fill-opacity="0.92">0</text><text transform="translate(1223.85,877.90) scale(0.9,1)" text-anchor="middle" font-size="40.1" fill="#056395" fill-opacity="0.92">2</text><text transform="translate(1245.95,877.90) scale(0.9,1)" text-anchor="middle" font-size="40.1" fill="#056395" fill-opacity="0.92">3</text>
<text transform="translate(1461.30,877.90) scale(0.9,1)" text-anchor="middle" font-size="40.1" fill="#056395" fill-opacity="0.92">2</text><text transform="translate(1483.40,877.90) scale(0.9,1)" text-anchor="middle" font-size="40.1" fill="#056395" fill-opacity="0.92">0</text><text transform="translate(1505.50,877.90) scale(0.9,1)" text-anchor="middle" font-size="40.1" fill="#056395" fill-opacity="0.92">2</text><text transform="translate(1527.60,877.90) scale(0.9,1)" text-anchor="middle" font-size="40.1" fill="#056395" fill-opacity="0.92">4</text>
<text transform="translate(1742.95,877.90) scale(0.9,1)" text-anchor="middle" font-size="40.1" fill="#056395" fill-opacity="0.92">2</text><text transform="translate(1765.05,877.90) scale(0.9,1)" text-anchor="middle" font-size="40.1" fill="#056395" fill-opacity="0.92">0</text><text transform="translate(1787.15,877.90) scale(0.9,1)" text-anchor="middle" font-size="40.1" fill="#056395" fill-opacity="0.92">2</text><text transform="translate(1809.25,877.90) scale(0.9,1)" text-anchor="middle" font-size="40.1" fill="#056395" fill-opacity="0.92">5</text>

<path d="M1630.84 193.34a5.6 6.4 0 1 0 11.20 0a5.6 6.4 0 1 0 -11.20 0zM1634.09 193.34a2.35 4.0 0 1 0 4.70 0a2.35 4.0 0 1 0 -4.70 0zM1644.88 206.60a5.6 6.4 0 1 0 11.20 0a5.6 6.4 0 1 0 -11.20 0zM1648.13 206.60a2.35 4.0 0 1 0 4.70 0a2.35 4.0 0 1 0 -4.70 0zM1649.00 187.00L1652.80 187.00L1638.10 212.80L1634.10 212.80z" fill="#e4032e" fill-rule="evenodd"/><path d="M1884.74 193.34a5.6 6.4 0 1 0 11.20 0a5.6 6.4 0 1 0 -11.20 0zM1887.99 193.34a2.35 4.0 0 1 0 4.70 0a2.35 4.0 0 1 0 -4.70 0zM1898.78 206.60a5.6 6.4 0 1 0 11.20 0a5.6 6.4 0 1 0 -11.20 0zM1902.03 206.60a2.35 4.0 0 1 0 4.70 0a2.35 4.0 0 1 0 -4.70 0zM1902.90 187.00L1906.70 187.00L1892.00 212.80L1888.00 212.80z" fill="#e4032e" fill-rule="evenodd"/>

</g>
</svg>
</body></html>
